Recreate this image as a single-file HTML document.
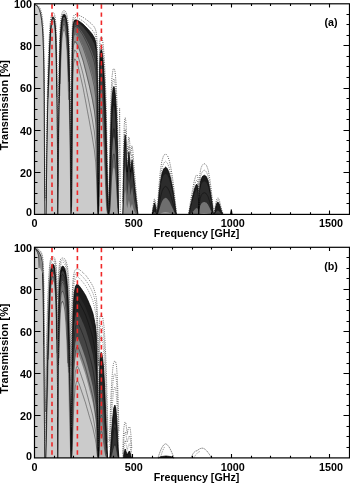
<!DOCTYPE html>
<html><head><meta charset="utf-8"><style>
html,body{margin:0;padding:0;background:#fff;}
svg{display:block;}
svg{will-change:transform;}
text{font-family:"Liberation Sans",sans-serif;font-weight:bold;fill:#000;}
.tl{font-size:10.8px;}
.al{font-size:10.7px;}
</style></head><body>
<svg width="350" height="483" viewBox="0 0 350 483">
<rect width="350" height="483" fill="#fff"/>
<polygon points="34.6,214.4 34.6,4.6 35.3,4.85 36,5.1 36.5,5.5 37,5.9 37.5,6.3 38.15,7.3 38.8,8.3 39.3,9.55 39.8,10.8 40.3,12.8 40.8,14.8 41.7,20.5 42.4,27.5 43,37.5 43.5,52 43.9,70 44.2,100 44.4,140 44.6,190 44.9,214.4 44.9,214.4" fill="#cbcbcb"/>
<polyline points="34.6,4.6 35.3,4.85 36,5.1 36.5,5.5 37,5.9 37.5,6.3 38.15,7.3 38.8,8.3 39.3,9.55 39.8,10.8 40.3,12.8 40.8,14.8 41.7,20.5 42.4,27.5 43,37.5 43.5,52 43.9,70 44.2,100 44.4,140 44.6,190 44.9,214.4" fill="none" stroke="#000" stroke-width="0.8"/>
<polygon points="46.1,214.4 46.1,214.4 46.4,190 46.9,150 47.5,115 48.1,90 48.8,70 49.5,50 50.2,35 51,25 51.8,19.5 52.3,18.25 52.8,17 53.7,17.6 54.5,20.5 55.2,26 55.8,36 56.3,55 56.7,80 57.1,110 57.5,150 57.9,214.4 57.9,214.4" fill="#1c1c1c"/>
<polygon points="46.1,214.4 46.1,214.4 46.4,192.96 46.9,154.42 47.5,119.38 48.1,93.87 48.8,73.23 49.5,52.42 50.2,36.72 51,26.2 51.8,20.4 52.3,19.08 52.8,17.77 53.7,18.4 54.5,21.46 55.2,27.25 55.8,37.77 56.3,57.64 56.7,83.57 57.1,114.3 57.5,154.42 57.9,214.4 57.9,214.4" fill="#707070"/>
<polygon points="46.1,214.4 46.1,214.4 46.4,196.74 46.9,160.49 47.5,125.59 48.1,99.45 48.8,77.95 49.5,56 50.2,39.26 51,27.99 51.8,21.75 52.3,20.33 52.8,18.91 53.7,19.59 54.5,22.89 55.2,29.12 55.8,40.39 56.3,61.52 56.7,88.76 57.1,120.43 57.5,160.49 57.9,214.4 57.9,214.4" fill="#cbcbcb"/>
<polyline points="46.1,214.4 46.4,190 46.9,150 47.5,115 48.1,90 48.8,70 49.5,50 50.2,35 51,25 51.8,19.5 52.3,18.25 52.8,17 53.7,17.6 54.5,20.5 55.2,26 55.8,36 56.3,55 56.7,80 57.1,110 57.5,150 57.9,214.4" fill="none" stroke="#000" stroke-width="0.8"/>
<polyline points="48.1,97.62 48.8,76.39 49.5,54.81 50.2,38.42 51,27.4 51.8,21.3 52.3,19.92 52.8,18.53 53.7,19.19 54.5,22.41 55.2,28.5 55.8,39.52 56.3,60.24 56.7,87.05" fill="none" stroke="#000" stroke-width="0.5" stroke-opacity="0.75"/>
<polyline points="48.8,85.46 49.5,61.77 50.2,43.43 51,30.93 51.8,23.98 52.3,22.39 52.8,20.8 53.7,21.56 54.5,25.25 55.2,32.19 55.8,44.66 56.3,67.78 56.7,96.94" fill="none" stroke="#000" stroke-width="0.5" stroke-opacity="0.75"/>
<polygon points="57.9,214.4 57.9,214.4 58.3,150 58.8,110 59.3,80 59.7,60 60.2,42 60.8,30 61.6,21 62.1,18.5 62.6,16 63.25,15.1 63.9,14.2 64.5,14.55 65.1,14.9 65.6,16.2 66.1,17.5 66.6,20.25 67.1,23 67.9,32 68.6,45 69.2,65 69.8,95 70.3,130 70.7,170 71.1,214.4 71.1,214.4" fill="#1c1c1c"/>
<polygon points="57.9,214.4 57.9,214.4 58.3,163.77 58.8,124.1 59.3,92.13 59.7,69.91 60.2,49.34 60.8,35.36 61.6,24.72 62.1,21.76 62.6,18.77 63.25,17.73 63.9,16.67 64.5,17.15 65.1,17.63 65.6,19.28 66.1,20.94 66.6,24.4 67.1,27.87 67.9,39.09 68.6,55.05 69.2,78.95 69.8,113.13 70.3,149.89 70.7,186.44 71.1,214.4 71.1,214.4" fill="#606060"/>
<polygon points="57.9,214.4 57.9,214.4 58.3,187.31 58.8,152.49 59.3,118.79 59.7,92.79 60.2,67 60.8,48.57 61.6,34.06 62.1,29.98 62.6,25.79 63.25,24.39 63.9,22.96 64.5,23.76 65.1,24.56 65.6,27.08 66.1,29.61 66.6,34.79 67.1,39.97 67.9,56.26 68.6,78.49 69.2,109.44 69.8,148.4 70.3,182.33 70.7,205.99 71.1,214.4 71.1,214.4" fill="#8c8c8c"/>
<polygon points="57.9,214.4 57.9,214.4 58.3,199.19 58.8,170.7 59.3,138.21 59.7,110.68 60.2,81.62 60.8,59.9 61.6,42.28 62.1,37.26 62.6,32.05 63.25,30.35 63.9,28.59 64.5,29.65 65.1,30.73 65.6,33.99 66.1,37.27 66.6,43.88 67.1,50.43 67.9,70.61 68.6,97.05 69.2,131.45 69.8,169.94 70.3,197.57 70.7,211.63 71.1,214.4 71.1,214.4" fill="#cbcbcb"/>
<polyline points="57.9,214.5 58.3,150 58.8,110 59.3,80 59.7,60 60.2,42 60.8,30 61.6,21 62.1,18.5 62.6,16 63.25,15.1 63.9,14.2 64.5,14.55 65.1,14.9 65.6,16.2 66.1,17.5 66.6,20.25 67.1,23 67.9,32 68.6,45 69.2,65 69.8,95 70.3,130 70.7,170 71.1,214.5" fill="none" stroke="#000" stroke-width="0.8"/>
<polyline points="59.3,89.8 59.7,67.98 60.2,47.9 60.8,34.3 61.6,23.98 62.1,21.11 62.6,18.22 63.25,17.2 63.9,16.18 64.5,16.63 65.1,17.09 65.6,18.67 66.1,20.26 66.6,23.58 67.1,26.91 67.9,37.69 68.6,53.09 69.2,76.27" fill="none" stroke="#000" stroke-width="0.5" stroke-opacity="0.75"/>
<polyline points="59.3,103.17 59.7,79.18 60.2,56.37 60.8,40.56 61.6,28.37 62.1,24.96 62.6,21.5 63.25,20.32 63.9,19.12 64.5,19.72 65.1,20.32 65.6,22.32 66.1,24.32 66.6,28.47 67.1,32.62 67.9,45.9 68.6,64.51 69.2,91.61" fill="none" stroke="#000" stroke-width="0.5" stroke-opacity="0.75"/>
<polyline points="59.7,95.97 60.2,69.54 60.8,50.52 61.6,35.46 62.1,31.21 62.6,26.85 63.25,25.4 63.9,23.91 64.5,24.75 65.1,25.6 65.6,28.25 66.1,30.91 66.6,36.34 67.1,41.75 67.9,58.75 68.6,81.78" fill="none" stroke="#000" stroke-width="0.5" stroke-opacity="0.75"/>
<polyline points="60.2,83.91 60.8,61.72 61.6,43.61 62.1,38.44 62.6,33.07 63.25,31.32 63.9,29.51 64.5,30.62 65.1,31.74 65.6,35.12 66.1,38.51 66.6,45.35 67.1,52.11 67.9,72.87 68.6,99.89" fill="none" stroke="#000" stroke-width="0.5" stroke-opacity="0.75"/>
<polygon points="71.1,214.4 71.1,214.4 71.4,170 71.7,130 71.9,90 72.1,60 72.4,40 72.9,28 73.6,22.5 74.1,21.35 74.6,20.2 75.3,20 76,19.8 76.5,19.97 77,20.15 77.5,20.32 78,20.5 78.5,20.82 79,21.15 79.5,21.47 80,21.8 80.5,22.17 81,22.53 81.5,22.9 82,23.27 82.5,23.63 83,24 83.5,24.5 84,25 84.5,25.5 85,26 85.5,26.5 86,27 86.5,27.53 87,28.07 87.5,28.6 88,29.13 88.5,29.67 89,30.2 89.5,30.8 90,31.4 90.5,32 91,32.6 91.5,33.2 92,33.8 92.58,34.72 93.15,35.65 93.72,36.58 94.3,37.5 95,39.75 95.7,42 96.6,50 97.1,62 97.5,85 97.8,120 98.1,170 98.5,214.4 98.5,214.4" fill="#1c1c1c"/>
<polygon points="71.1,214.4 71.1,214.4 71.4,175.46 71.7,136.38 71.9,95.58 72.1,64.17 72.4,42.93 72.9,30.1 73.6,24.22 74.1,23.02 74.6,21.81 75.3,21.65 76,21.49 76.5,21.73 77,21.97 77.5,22.21 78,22.45 78.5,22.85 79,23.26 79.5,23.67 80,24.09 80.5,24.55 81,25.01 81.5,25.47 82,25.94 82.5,26.41 83,26.88 83.5,27.5 84,28.12 84.5,28.75 85,29.38 85.5,30.01 86,30.64 86.5,31.32 87,31.99 87.5,32.67 88,33.35 88.5,34.03 89,34.72 89.5,35.48 90,36.25 90.5,37.02 91,37.79 91.5,38.56 92,39.34 92.58,40.51 93.15,41.68 93.72,42.86 94.3,44.03 95,46.79 95.7,49.56 96.6,59.07 97.1,73.02 97.5,98.95 97.8,136.28 98.1,183.73 98.5,214.4 98.5,214.4" fill="#3a3a3a"/>
<polygon points="71.1,214.4 71.1,214.4 71.4,185.72 71.7,149.45 71.9,107.63 72.1,73.47 72.4,49.59 72.9,34.91 73.6,28.18 74.1,26.85 74.6,25.51 75.3,25.45 76,25.39 76.5,25.77 77,26.15 77.5,26.53 78,26.91 78.5,27.51 79,28.11 79.5,28.71 80,29.32 80.5,29.99 81,30.66 81.5,31.34 82,32.03 82.5,32.72 83,33.42 83.5,34.31 84,35.21 84.5,36.11 85,37.02 85.5,37.94 86,38.87 86.5,39.85 87,40.83 87.5,41.82 88,42.82 88.5,43.82 89,44.83 89.5,45.95 90,47.07 90.5,48.19 91,49.33 91.5,50.46 92,51.61 92.58,53.28 93.15,54.97 93.72,56.66 94.3,58.36 95,62.14 95.7,65.92 96.6,78.33 97.1,95.72 97.5,125.94 97.8,164.18 98.1,201.47 98.5,214.4 98.5,214.4" fill="#666666"/>
<polygon points="71.1,214.4 71.1,214.4 71.4,198.85 71.7,169.39 71.9,128.2 72.1,90.39 72.4,62.14 72.9,44.16 73.6,35.84 74.1,34.3 74.6,32.7 75.3,32.83 76,32.95 76.5,33.59 77,34.23 77.5,34.88 78,35.54 78.5,36.48 79,37.43 79.5,38.38 80,39.35 80.5,40.4 81,41.47 81.5,42.54 82,43.63 82.5,44.72 83,45.82 83.5,47.2 84,48.58 84.5,49.98 85,51.38 85.5,52.8 86,54.23 86.5,55.73 87,57.25 87.5,58.77 88,60.3 88.5,61.84 89,63.39 89.5,65.08 90,66.77 90.5,68.48 91,70.19 91.5,71.9 92,73.63 92.58,76.09 93.15,78.56 93.72,81.03 94.3,83.5 95,88.75 95.7,93.94 96.6,109.98 97.1,130.78 97.5,162.46 97.8,193.65 98.1,212.1 98.5,214.4 98.5,214.4" fill="#999999"/>
<polygon points="71.1,214.4 71.1,214.4 71.4,207.91 71.7,187.75 71.9,150.9 72.1,111.09 72.4,78.43 72.9,56.55 73.6,46.25 74.1,44.42 74.6,42.51 75.3,42.88 76,43.22 76.5,44.2 77,45.19 77.5,46.18 78,47.18 78.5,48.55 79,49.94 79.5,51.33 80,52.74 80.5,54.27 81,55.81 81.5,57.36 82,58.92 82.5,60.5 83,62.08 83.5,64.02 84,65.97 84.5,67.93 85,69.91 85.5,71.88 86,73.87 86.5,75.95 87,78.04 87.5,80.13 88,82.23 88.5,84.33 89,86.43 89.5,88.7 90,90.97 90.5,93.24 91,95.5 91.5,97.76 92,100.02 92.58,103.19 93.15,106.33 93.72,109.45 94.3,112.55 95,118.9 95.7,125.05 96.6,142.86 97.1,163.69 97.5,190.12 97.8,208.53 98.1,214.2 98.5,214.4 98.5,214.4" fill="#cbcbcb"/>
<polyline points="71.1,214.5 71.4,170 71.7,130 71.9,90 72.1,60 72.4,40 72.9,28 73.6,22.5 74.1,21.35 74.6,20.2 75.3,20 76,19.8 76.5,19.98 77,20.15 77.5,20.32 78,20.5 78.5,20.82 79,21.15 79.5,21.48 80,21.8 80.5,22.17 81,22.53 81.5,22.9 82,23.27 82.5,23.63 83,24 83.5,24.5 84,25 84.5,25.5 85,26 85.5,26.5 86,27 86.5,27.53 87,28.07 87.5,28.6 88,29.13 88.5,29.67 89,30.2 89.5,30.8 90,31.4 90.5,32 91,32.6 91.5,33.2 92,33.8 92.58,34.72 93.15,35.65 93.72,36.58 94.3,37.5 95,39.75 95.7,42 96.6,50 97.1,62 97.5,85 97.8,120 98.1,170 98.5,214.5" fill="none" stroke="#000" stroke-width="0.8"/>
<polyline points="71.4,188.12 71.7,152.77 71.9,110.85 72.1,76.02 72.4,51.45 72.9,36.26 73.6,29.29 74.1,27.94 74.6,26.56 75.3,26.53 76,26.49 76.5,26.9 77,27.32 77.5,27.75 78,28.17 78.5,28.82 79,29.47 79.5,30.12 80,30.78 80.5,31.51 81,32.25 81.5,32.99 82,33.73 82.5,34.48 83,35.24 83.5,36.21 84,37.18 84.5,38.16 85,39.15 85.5,40.15 86,41.15 86.5,42.21 87,43.28 87.5,44.35 88,45.43 88.5,46.52 89,47.62 89.5,48.82 90,50.04 90.5,51.26 91,52.48 91.5,53.71 92,54.95 92.58,56.76 93.15,58.57 93.72,60.4 94.3,62.23 95,66.26 95.7,70.29 96.6,83.38 97.1,101.51 97.5,132.41 97.8,170.14 98.1,204.29" fill="none" stroke="#000" stroke-width="0.5" stroke-opacity="0.75"/>
<polyline points="71.4,200.15 71.7,171.69 71.9,130.8 72.1,92.63 72.4,63.85 72.9,45.44 73.6,36.91 74.1,35.34 74.6,33.71 75.3,33.86 76,34 76.5,34.68 77,35.36 77.5,36.05 78,36.74 78.5,37.72 79,38.72 79.5,39.72 80,40.74 80.5,41.84 81,42.96 81.5,44.08 82,45.22 82.5,46.37 83,47.52 83.5,48.96 84,50.41 84.5,51.87 85,53.34 85.5,54.82 86,56.31 86.5,57.88 87,59.46 87.5,61.05 88,62.65 88.5,64.25 89,65.87 89.5,67.63 90,69.39 90.5,71.17 91,72.95 91.5,74.73 92,76.52 92.58,79.07 93.15,81.63 93.72,84.19 94.3,86.74 95,92.15 95.7,97.49 96.6,113.85 97.1,134.86 97.5,166.26 97.8,196.11 98.1,212.6" fill="none" stroke="#000" stroke-width="0.5" stroke-opacity="0.75"/>
<polyline points="71.4,207.32 71.7,186.31 71.9,148.93 72.1,109.18 72.4,76.88 72.9,55.35 73.6,45.24 74.1,43.44 74.6,41.55 75.3,41.9 76,42.22 76.5,43.17 77,44.12 77.5,45.08 78,46.05 78.5,47.38 79,48.73 79.5,50.08 80,51.45 80.5,52.94 81,54.43 81.5,55.94 82,57.46 82.5,58.99 83,60.53 83.5,62.42 84,64.32 84.5,66.23 85,68.15 85.5,70.08 86,72.02 86.5,74.05 87,76.09 87.5,78.13 88,80.18 88.5,82.23 89,84.29 89.5,86.51 90,88.74 90.5,90.96 91,93.19 91.5,95.4 92,97.62 92.58,100.73 93.15,103.83 93.72,106.91 94.3,109.96 95,116.24 95.7,122.34 96.6,140.11 97.1,161.09 97.5,188.2 97.8,207.74 98.1,214.15" fill="none" stroke="#000" stroke-width="0.5" stroke-opacity="0.75"/>
<polyline points="71.4,211.17 71.7,196.87 71.9,164.68 72.1,125.13 72.4,90.19 72.9,65.8 73.6,54.14 74.1,52.11 74.6,49.97 75.3,50.51 76,51.02 76.5,52.24 77,53.47 77.5,54.7 78,55.94 78.5,57.62 79,59.3 79.5,61.01 80,62.72 80.5,64.56 81,66.42 81.5,68.29 82,70.17 82.5,72.06 83,73.96 83.5,76.26 84,78.56 84.5,80.88 85,83.19 85.5,85.52 86,87.84 86.5,90.26 87,92.68 87.5,95.09 88,97.5 88.5,99.9 89,102.3 89.5,104.88 90,107.44 90.5,109.98 91,112.52 91.5,115.03 92,117.52 92.58,120.99 93.15,124.4 93.72,127.77 94.3,131.07 95,137.72 95.7,144.04 96.6,161.54 97.1,180.41 97.5,201.19 97.8,212.26 98.1,214.37" fill="none" stroke="#000" stroke-width="0.5" stroke-opacity="0.75"/>
<polyline points="71.4,213.05 71.7,204.02 71.9,177.77 72.1,140.03 72.4,103.48 72.9,76.62 73.6,63.48 74.1,61.24 74.6,58.84 75.3,59.58 76,60.27 76.5,61.76 77,63.25 77.5,64.75 78,66.25 78.5,68.26 79,70.27 79.5,72.29 80,74.33 80.5,76.51 81,78.7 81.5,80.89 82,83.09 82.5,85.3 83,87.5 83.5,90.16 84,92.81 84.5,95.46 85,98.1 85.5,100.74 86,103.36 86.5,106.08 87,108.78 87.5,111.47 88,114.13 88.5,116.78 89,119.4 89.5,122.2 90,124.97 90.5,127.7 91,130.4 91.5,133.06 92,135.68 92.58,139.29 93.15,142.8 93.72,146.23 94.3,149.57 95,156.12 95.7,162.21 96.6,178.19 97.1,193.79 97.5,208.23 97.8,213.79 98.1,214.4" fill="none" stroke="#000" stroke-width="0.5" stroke-opacity="0.75"/>
<polygon points="98.5,214.4 98.5,214.4 98.8,170 99.1,120 99.4,85 99.8,63 100.3,53 101.1,49.4 101.9,51 102.6,56 103.4,65 104.2,78 104.9,93 105.6,112 106.2,135 106.9,165 107.7,195 108.4,214.4 108.4,214.4" fill="#1c1c1c"/>
<polygon points="98.5,214.4 98.5,214.4 98.8,186.57 99.1,140.2 99.4,102.59 99.8,77.27 100.3,65.38 101.1,61.05 101.9,62.98 102.6,68.97 103.4,79.62 104.2,94.66 104.9,111.49 105.6,131.92 106.2,155.14 106.9,182.43 107.7,204.91 108.4,214.4 108.4,214.4" fill="#444444"/>
<polygon points="98.5,214.4 98.5,214.4 98.8,205.04 99.1,172.09 99.4,134.89 99.8,105.56 100.3,90.71 101.1,85.13 101.9,87.62 102.6,95.26 103.4,108.42 104.2,126.06 104.9,144.42 105.6,164.61 106.2,184.46 106.9,202.81 107.7,212.61 108.4,214.4 108.4,214.4" fill="#888888"/>
<polygon points="98.5,214.4 98.5,214.4 98.8,211.71 99.1,192.13 99.4,160.55 99.8,130.82 100.3,114.42 101.1,108.05 101.9,110.91 102.6,119.54 103.4,133.87 104.2,151.99 104.9,169.36 105.6,186.44 106.2,200.68 106.9,210.77 107.7,214.13 108.4,214.4 108.4,214.4" fill="#cbcbcb"/>
<polyline points="98.5,214.5 98.8,170 99.1,120 99.4,85 99.8,63 100.3,53 101.1,49.4 101.9,51 102.6,56 103.4,65 104.2,78 104.9,93 105.6,112 106.2,135 106.9,165 107.7,195 108.4,214.5" fill="none" stroke="#000" stroke-width="0.8"/>
<polyline points="98.8,184.31 99.1,137.16 99.4,99.83 99.8,74.99 100.3,63.39 101.1,59.16 101.9,61.04 102.6,66.89 103.4,77.29 104.2,92.04 104.9,108.62 105.6,128.89 106.2,152.18 106.9,180.02 107.7,203.71" fill="none" stroke="#000" stroke-width="0.5" stroke-opacity="0.75"/>
<polyline points="98.8,196.95 99.1,156.07 99.4,117.79 99.8,90.2 100.3,76.82 101.1,71.87 101.9,74.08 102.6,80.88 103.4,92.81 104.2,109.29 104.9,127.17 105.6,147.96 106.2,170.18 106.9,193.7 107.7,209.76" fill="none" stroke="#000" stroke-width="0.5" stroke-opacity="0.75"/>
<polyline points="98.8,206.39 99.1,175.35 99.4,138.67 99.8,109.09 100.3,93.95 101.1,88.24 101.9,90.8 102.6,98.61 103.4,111.99 104.2,129.81 104.9,148.17 105.6,168.07 106.2,187.25 106.9,204.38 107.7,212.99" fill="none" stroke="#000" stroke-width="0.5" stroke-opacity="0.75"/>
<polyline points="98.8,211.71 99.1,192.13 99.4,160.55 99.8,130.82 100.3,114.42 101.1,108.05 101.9,110.91 102.6,119.54 103.4,133.87 104.2,151.99 104.9,169.36 105.6,186.44 106.2,200.68 106.9,210.77 107.7,214.13" fill="none" stroke="#000" stroke-width="0.5" stroke-opacity="0.75"/>
<polygon points="108.6,214.4 108.6,214.4 109.3,195 110.1,160 110.8,130 111.5,108 112.3,95 113.2,88 113.9,86.5 114.6,88.5 115.4,96 116.2,108 116.9,125 117.5,150 118.1,185 118.6,214.4 118.6,214.4" fill="#1c1c1c"/>
<polygon points="108.6,214.4 108.6,214.4 109.3,204.91 110.1,178.16 110.8,150.25 111.5,127.71 112.3,113.69 113.2,105.95 113.9,104.27 114.6,106.51 115.4,114.79 116.2,127.71 116.9,145.26 117.5,169.26 118.1,198.11 118.6,214.4 118.6,214.4" fill="#3a3a3a"/>
<polygon points="108.6,214.4 108.6,214.4 109.3,212.61 110.1,200.35 110.8,180.58 111.5,160.64 112.3,146.71 113.2,138.54 113.9,136.72 114.6,139.13 115.4,147.84 116.2,160.64 116.9,176.45 117.5,194.71 118.1,210.3 118.6,214.4 118.6,214.4" fill="#707070"/>
<polygon points="108.6,214.4 108.6,214.4 109.3,214.24 110.1,210.77 110.8,200.84 111.5,187.24 112.3,176.02 113.2,168.87 113.9,167.23 114.6,169.41 115.4,176.98 116.2,187.24 116.9,198.29 117.5,208.38 118.1,213.83 118.6,214.4 118.6,214.4" fill="#a8a8a8"/>
<polyline points="108.6,214.5 109.3,195 110.1,160 110.8,130 111.5,108 112.3,95 113.2,88 113.9,86.5 114.6,88.5 115.4,96 116.2,108 116.9,125 117.5,150 118.1,185 118.6,214.5" fill="none" stroke="#000" stroke-width="0.8"/>
<polyline points="109.3,204.91 110.1,178.16 110.8,150.25 111.5,127.71 112.3,113.69 113.2,105.95 113.9,104.27 114.6,106.51 115.4,114.79 116.2,127.71 116.9,145.26 117.5,169.26 118.1,198.11" fill="none" stroke="#000" stroke-width="0.5" stroke-opacity="0.75"/>
<polyline points="109.3,211.52 110.1,195.98 110.8,173.79 111.5,152.78 112.3,138.57 113.2,130.38 113.9,128.58 114.6,130.98 115.4,139.71 116.2,152.78 116.9,169.36 117.5,189.44 118.1,208.32" fill="none" stroke="#000" stroke-width="0.5" stroke-opacity="0.75"/>
<polyline points="109.3,213.86 110.1,207.26 110.8,192.99 111.5,176.19 112.3,163.43 113.2,155.63 113.9,153.87 114.6,156.21 115.4,164.49 116.2,176.19 116.9,189.67 117.5,203.51 118.1,212.87" fill="none" stroke="#000" stroke-width="0.5" stroke-opacity="0.75"/>
<polygon points="122.8,214.4 122.8,214.4 123.4,185 123.9,160 124.5,142 125.2,135 125.9,142 126.5,160 127.2,172 128,162 128.9,152 129.7,160 130.5,172 131.3,165 132.1,160 132.9,168 133.45,174 134,180 134.7,186.5 135.4,193 136.05,198.5 136.7,204 137.35,209.25 138,214.4 138,214.4" fill="#1c1c1c"/>
<polygon points="122.8,214.4 122.8,214.4 123.4,192.52 123.9,170 124.5,152.71 125.2,145.81 125.9,152.71 126.5,170 127.2,181.06 128,171.87 128.9,162.41 129.7,170 130.5,181.06 131.3,174.66 132.1,170 132.9,177.42 133.45,182.86 134,188.19 134.7,193.8 135.4,199.21 136.05,203.61 136.7,207.78 137.35,211.45 138,214.4 138,214.4" fill="#383838"/>
<polygon points="122.8,214.4 122.8,214.4 123.4,203.42 123.9,186.75 124.5,171.95 125.2,165.65 125.9,171.95 126.5,186.75 127.2,195.38 128,188.26 128.9,180.43 129.7,186.75 130.5,195.38 131.3,190.47 132.1,186.75 132.9,192.62 133.45,196.71 134,200.5 134.7,204.25 135.4,207.58 136.05,210.03 136.7,212.09 137.35,213.59 138,214.4 138,214.4" fill="#686868"/>
<polygon points="122.8,214.4 122.8,214.4 123.4,211.63 123.9,203.68 124.5,194.3 125.2,189.77 125.9,194.3 126.5,203.68 127.2,208.2 128,204.53 128.9,199.9 129.7,203.68 130.5,208.2 131.3,205.73 132.1,203.68 132.9,206.85 133.45,208.83 134,210.49 134.7,211.93 135.4,213.02 136.05,213.68 136.7,214.12 137.35,214.34 138,214.4 138,214.4" fill="#9a9a9a"/>
<polyline points="122.8,214.5 123.4,185 123.9,160 124.5,142 125.2,135 125.9,142 126.5,160 127.2,172 128,162 128.9,152 129.7,160 130.5,172 131.3,165 132.1,160 132.9,168 133.45,174 134,180 134.7,186.5 135.4,193 136.05,198.5 136.7,204 137.35,209.25 138,214.5" fill="none" stroke="#000" stroke-width="0.8"/>
<polygon points="152.3,214.4 152.3,214.4 152.8,211.25 153.3,208 153.9,205.5 154.5,203 155.05,204.75 155.6,206.5 156.1,209.5 156.6,212.5 157.2,213.5 157.2,214.4" fill="#1c1c1c"/>
<polygon points="152.3,214.4 152.3,214.4 152.8,214.01 153.3,213.28 153.9,212.57 154.5,211.75 155.05,212.33 155.6,212.87 156.1,213.65 156.6,214.22 157.2,214.34 157.2,214.4" fill="#555"/>
<polyline points="152.3,214.5 152.8,211.25 153.3,208 153.9,205.5 154.5,203 155.05,204.75 155.6,206.5 156.1,209.5 156.6,212.5 157.2,213.5" fill="none" stroke="#000" stroke-width="0.8"/>
<polygon points="157.2,214.4 157.2,213.5 157.7,208.75 158.2,204 158.75,198 159.3,192 159.95,186.5 160.6,181 161.3,177.25 162,173.5 162.53,172 163.07,170.5 163.6,169 164.23,168.37 164.87,167.73 165.5,167.1 166.1,167.6 166.7,168.1 167.3,168.6 167.87,169.9 168.43,171.2 169,172.5 169.5,174.33 170,176.17 170.5,178 171,180.33 171.5,182.67 172,185 172.7,189 173.4,193 174,197.5 174.6,202 175.1,205.5 175.6,209 176.5,214.4 176.5,214.4" fill="#1c1c1c"/>
<polygon points="157.2,214.4 157.2,213.88 157.7,210.47 158.2,206.7 158.75,201.69 159.3,196.5 159.95,191.61 160.6,186.62 161.3,183.17 162,179.68 162.53,178.28 163.07,176.87 163.6,175.46 164.23,174.86 164.87,174.26 165.5,173.66 166.1,174.14 166.7,174.61 167.3,175.08 167.87,176.31 168.43,177.53 169,178.75 169.5,180.46 170,182.16 170.5,183.86 171,186.01 171.5,188.14 172,190.25 172.7,193.84 173.4,197.37 174,201.27 174.6,205.06 175.1,207.91 175.6,210.66 176.5,214.4 176.5,214.4" fill="#2c2c2c"/>
<polygon points="157.2,214.4 157.2,214.38 157.7,213.95 158.2,213.13 158.75,211.65 159.3,209.73 159.95,207.62 160.6,205.2 161.3,203.37 162,201.41 162.53,200.59 163.07,199.75 163.6,198.89 164.23,198.52 164.87,198.15 165.5,197.77 166.1,198.07 166.7,198.37 167.3,198.66 167.87,199.41 168.43,200.15 169,200.87 169.5,201.86 170,202.82 170.5,203.75 171,204.88 171.5,205.96 172,206.99 172.7,208.62 173.4,210.08 174,211.51 174.6,212.69 175.1,213.43 175.6,213.98 176.5,214.4 176.5,214.4" fill="#6e6e6e"/>
<polygon points="157.2,214.4 157.2,214.4 157.7,214.4 158.2,214.37 158.75,214.3 159.3,214.15 159.95,213.91 160.6,213.56 161.3,213.24 162,212.86 162.53,212.68 163.07,212.49 163.6,212.29 164.23,212.2 164.87,212.11 165.5,212.01 166.1,212.09 166.7,212.16 167.3,212.23 167.87,212.41 168.43,212.58 169,212.74 169.5,212.95 170,213.14 170.5,213.31 171,213.51 171.5,213.68 172,213.83 172.7,214.03 173.4,214.18 174,214.29 174.6,214.36 175.1,214.38 175.6,214.4 176.5,214.4 176.5,214.4" fill="#9a9a9a"/>
<polyline points="157.2,213.5 157.7,208.75 158.2,204 158.75,198 159.3,192 159.95,186.5 160.6,181 161.3,177.25 162,173.5 162.53,172 163.07,170.5 163.6,169 164.23,168.37 164.87,167.73 165.5,167.1 166.1,167.6 166.7,168.1 167.3,168.6 167.87,169.9 168.43,171.2 169,172.5 169.5,174.33 170,176.17 170.5,178 171,180.33 171.5,182.67 172,185 172.7,189 173.4,193 174,197.5 174.6,202 175.1,205.5 175.6,209 176.5,214.5" fill="none" stroke="#000" stroke-width="0.8"/>
<polyline points="157.2,214.27 157.7,212.81 158.2,210.77 158.75,207.69 159.3,204.18 159.95,200.65 160.6,196.87 161.3,194.16 162,191.35 162.53,190.2 163.07,189.04 163.6,187.87 164.23,187.36 164.87,186.86 165.5,186.36 166.1,186.75 166.7,187.15 167.3,187.55 167.87,188.57 168.43,189.59 169,190.59 169.5,191.98 170,193.36 170.5,194.71 171,196.39 171.5,198.04 172,199.64 172.7,202.29 173.4,204.79 174,207.41 174.6,209.8 175.1,211.46 175.6,212.9" fill="none" stroke="#000" stroke-width="0.5" stroke-opacity="0.75"/>
<polygon points="188.8,214.4 188.8,214.4 189.37,211.67 189.93,208.83 190.5,206 191,203.75 191.5,201.5 192,199.25 192.5,197 193,195 193.5,193 194,191 194.5,189 195,187.67 195.5,186.33 196,185 196.8,184.2 197.6,185.5 198.2,190 198.5,200 198.6,214.4 198.6,214.4" fill="#1c1c1c"/>
<polygon points="188.8,214.4 188.8,214.4 189.37,212.63 189.93,210.53 190.5,208.31 191,206.5 191.5,204.64 192,202.76 192.5,200.84 193,199.12 193.5,197.37 194,195.62 194.5,193.84 195,192.65 195.5,191.46 196,190.25 196.8,189.53 197.6,190.71 198.2,194.73 198.5,203.39 198.6,214.4 198.6,214.4" fill="#2c2c2c"/>
<polygon points="188.8,214.4 188.8,214.4 189.37,214.32 189.93,214.1 190.5,213.76 191,213.42 191.5,213.02 192,212.56 192.5,212.03 193,211.52 193.5,210.96 194,210.37 194.5,209.72 195,209.27 195.5,208.8 196,208.32 196.8,208.01 197.6,208.5 198.2,210.05 198.5,212.72 198.6,214.4 198.6,214.4" fill="#6e6e6e"/>
<polyline points="188.8,214.5 189.37,211.67 189.93,208.83 190.5,206 191,203.75 191.5,201.5 192,199.25 192.5,197 193,195 193.5,193 194,191 194.5,189 195,187.67 195.5,186.33 196,185 196.8,184.2 197.6,185.5 198.2,190 198.5,200 198.6,214.5" fill="none" stroke="#000" stroke-width="0.8"/>
<polygon points="198.9,214.4 198.9,214.4 199.1,200 199.5,190 200.2,183 200.75,180.75 201.3,178.5 201.8,177.67 202.3,176.83 202.8,176 203.37,175.77 203.93,175.53 204.5,175.3 205.1,175.7 205.7,176.1 206.3,176.5 206.87,177.83 207.43,179.17 208,180.5 208.53,182.83 209.07,185.17 209.6,187.5 210.3,191.75 211,196 211.65,200.5 212.3,205 212.9,209.75 213.5,214.4 213.5,214.4" fill="#1c1c1c"/>
<polygon points="198.9,214.4 198.9,214.4 199.1,203.39 199.5,194.73 200.2,188.44 200.75,186.39 201.3,184.32 201.8,183.55 202.3,182.78 202.8,182.01 203.37,181.79 203.93,181.58 204.5,181.36 205.1,181.73 205.7,182.1 206.3,182.47 206.87,183.71 207.43,184.94 208,186.16 208.53,188.29 209.07,190.41 209.6,192.5 210.3,196.28 211,199.98 211.65,203.81 212.3,207.51 212.9,211.22 213.5,214.4 213.5,214.4" fill="#2c2c2c"/>
<polygon points="198.9,214.4 198.9,214.4 199.1,212.08 199.5,208.77 200.2,205.79 200.75,204.73 201.3,203.62 201.8,203.2 202.3,202.77 202.8,202.33 203.37,202.21 203.93,202.08 204.5,201.96 205.1,202.17 205.7,202.38 206.3,202.59 206.87,203.28 207.43,203.95 208,204.61 208.53,205.72 209.07,206.77 209.6,207.76 210.3,209.43 211,210.89 211.65,212.21 212.3,213.27 212.9,214.05 213.5,214.4 213.5,214.4" fill="#747474"/>
<polygon points="198.9,214.4 198.9,214.4 199.1,214.33 199.5,214.07 200.2,213.7 200.75,213.54 201.3,213.36 201.8,213.28 202.3,213.2 202.8,213.12 203.37,213.1 203.93,213.08 204.5,213.05 205.1,213.09 205.7,213.13 206.3,213.17 206.87,213.3 207.43,213.41 208,213.52 208.53,213.69 209.07,213.84 209.6,213.96 210.3,214.14 211,214.26 211.65,214.34 212.3,214.38 212.9,214.4 213.5,214.4 213.5,214.4" fill="#9a9a9a"/>
<polyline points="198.9,214.5 199.1,200 199.5,190 200.2,183 200.75,180.75 201.3,178.5 201.8,177.67 202.3,176.83 202.8,176 203.37,175.77 203.93,175.53 204.5,175.3 205.1,175.7 205.7,176.1 206.3,176.5 206.87,177.83 207.43,179.17 208,180.5 208.53,182.83 209.07,185.17 209.6,187.5 210.3,191.75 211,196 211.65,200.5 212.3,205 212.9,209.75 213.5,214.5" fill="none" stroke="#000" stroke-width="0.8"/>
<polyline points="199.1,208.77 199.5,202.92 200.2,198.27 200.75,196.69 201.3,195.07 201.8,194.46 202.3,193.85 202.8,193.23 203.37,193.06 203.93,192.89 204.5,192.71 205.1,193.01 205.7,193.31 206.3,193.61 206.87,194.59 207.43,195.56 208,196.51 208.53,198.15 209.07,199.75 209.6,201.31 210.3,204.02 211,206.56 211.65,209.03 212.3,211.23 212.9,213.18" fill="none" stroke="#000" stroke-width="0.5" stroke-opacity="0.75"/>
<polygon points="214.3,214.4 214.3,214.4 214.9,211.25 215.5,208 216.15,205.75 216.8,203.5 217.35,202.75 217.9,202 218.55,203 219.2,204 219.9,206.25 220.6,208.5 221.3,210.5 222,212.5 222.65,213.5 223.3,214.4 223.3,214.4" fill="#1c1c1c"/>
<polygon points="214.3,214.4 214.3,214.4 214.9,213.81 215.5,212.82 216.15,211.99 216.8,211.07 217.35,210.74 217.9,210.41 218.55,210.85 219.2,211.28 219.9,212.18 220.6,212.99 221.3,213.61 222,214.11 222.65,214.3 223.3,214.4 223.3,214.4" fill="#444"/>
<polyline points="214.3,214.5 214.9,211.25 215.5,208 216.15,205.75 216.8,203.5 217.35,202.75 217.9,202 218.55,203 219.2,204 219.9,206.25 220.6,208.5 221.3,210.5 222,212.5 222.65,213.5 223.3,214.5" fill="none" stroke="#000" stroke-width="0.8"/>
<polygon points="230.4,214.4 230.4,214.4 231.3,209.5 232.2,214.4 232.2,214.4" fill="#1c1c1c"/>
<polyline points="230.4,214.5 231.3,209.5 232.2,214.5" fill="none" stroke="#000" stroke-width="0.8"/>
<polyline points="34.5,4.35 35,4.35 35.5,4.46 36,4.58 36.5,4.76 37,5.02 37.5,5.28 38,5.66 38.5,6.16 39,6.66 39.5,7.45 40,8.28 40.5,9.56 41,10.91 41.5,12.99 42,15.31 42.5,18.85 43,24.19 43.5,32.87 44,47.89 44.5,91.05 45,198.06" fill="none" stroke="#111" stroke-width="0.65" stroke-dasharray="1 1.2"/>
<polyline points="46,198.06 46.5,147.83 47,111.35 47.5,85.66 48,67.7 48.5,54.9 49,42.8 49.5,32.79 50,24.97 50.5,20.38 51,16.92 51.5,14.51 52,13.49 52.5,12.63 53,12.63 53.5,12.75 54,13.08 54.5,14.33 55,16.34 55.5,19.45 56,25.56 56.5,39.51 57,65.89 57.5,106.48 58,143.21 58.5,95.09 59,65.21 59.5,43.67 60,29.97 60.5,22.47 61,18.09 61.5,14.79 62,13.06 62.5,11.72 63,11.25 63.5,10.78 64,10.68 64.5,10.78 65,10.98 65.5,11.38 66,12.27 66.5,13.46 67,15.37 67.5,17.91 68,21.97 68.5,28.07 69,37.02 69.5,51.5 70,74.02 70.5,108.06 71,164.16 71.5,101.25 72,37.02 72.5,22.91 73,18.31 73.5,16.12 74,15.32 74.5,14.73 75,14.63 75.5,14.53 76,14.48 76.5,14.54 77,14.66 77.5,14.78 78,14.9 78.5,15.08 79,15.3 79.5,15.53 80,15.76 80.5,16 81,16.26 81.5,16.52 82,16.78 82.5,17.04 83,17.3 83.5,17.6 84,17.96 84.5,18.31 85,18.67 85.5,19.03 86,19.39 86.5,19.76 87,20.14 87.5,20.53 88,20.92 88.5,21.3 89,21.69 89.5,22.11 90,22.55 90.5,22.99 91,23.43 91.5,23.87 92,24.32 92.5,24.84 93,25.44 93.5,26.04 94,26.64 94.5,27.25 95,28.41 95.5,29.63 96,31.09 96.5,34.55 97,39.91 97.5,54.2 98,95.26 98.5,166.44 99,83.62 99.5,50.01 100,40.24 100.5,37.8 101,36.78 101.5,36.78 102,37.58 102.5,39.83 103,43.25 103.5,47.94 104,54.26 104.5,61.66 105,71.47 105.5,83.62 106,98.92 106.5,119.53 107,143.8 107.5,167.32 108,190.46 108.5,208.88 109,190.46 109.5,163.85 110,138 110.5,114.1 111,96.98 111.5,85.03 112,77.16 112.5,73.08 113,69.71 113.5,68.72 114,68.68 114.5,69.34 115,71.58 115.5,76 116,82.4 116.5,90.26 117,102.66 117.5,122.22 118,150.89 118.5,187.17" fill="none" stroke="#111" stroke-width="0.65" stroke-dasharray="1 1.2"/>
<polyline points="122.75,201.32 123.25,169.64 123.75,141.97 124.25,124.9 124.75,119.38 125.25,117.74 125.75,120.47 126.25,128.25 126.75,145.47 127.25,155.28 127.75,147.83 128.25,141.32 128.75,137.34 129.25,137.34 129.75,143.13 130.25,150.79 130.75,154.53 131.25,149.9 131.75,146.21 132.25,146.21 132.75,150.2 133.25,156.29 133.75,162.91 134.25,169.64 134.75,175.44 135.25,181.32 135.75,187.17 136.25,192.66 136.75,198.2 137.25,203.66 137.75,209.07" fill="none" stroke="#111" stroke-width="0.65" stroke-dasharray="1 1.2"/>
<polyline points="152.25,212.77 152.75,208.38 153.25,204.65 153.75,201.88 154.25,199.12 154.75,199.12 155.25,201.22 155.75,203.34 156.25,206.97 156.75,211.01 157.25,209.32 157.75,202.96 158.25,196.12 158.75,189.01 159.25,182.63 159.75,177.25 160.25,171.94 160.75,168.22 161.25,164.92 161.75,161.64 162.25,159.92 162.75,158.22 163.25,156.52 163.75,155.7 164.25,155.1 164.75,154.5 165.25,153.9 165.75,153.9 166.25,154.4 166.75,154.9 167.25,155.4 167.75,156.25 168.25,157.63 168.75,159.02 169.25,160.42 169.75,162.65 170.25,164.9 170.75,167.16 171.25,170.05 171.75,172.96 172.25,175.89 172.75,179.51 173.25,183.15 173.75,187.04 174.25,191.9 174.75,196.81 175.25,201.5 175.75,206.17 176.25,210.4" fill="none" stroke="#111" stroke-width="0.65" stroke-dasharray="1 1.2"/>
<polyline points="188.75,213.18 189.25,209.8 189.75,206.44 190.25,203.1 190.75,200.11 191.25,197.14 191.75,194.19 192.25,191.25 192.75,188.66 193.25,186.08 193.75,183.51 194.25,180.96 194.75,179.26 195.25,177.58 195.75,175.89 196.25,175.26 196.75,174.95 197.25,175.3 197.75,176.32 198.25,180.32 198.75,195.17 199.25,182.23 199.75,175.89 200.25,171.85 200.75,169.3 201.25,167.37 201.75,166.34 202.25,165.31 202.75,164.6 203.25,164.34 203.75,164.09 204.25,163.84 204.75,163.84 205.25,164.25 205.75,164.66 206.25,165.07 206.75,165.89 207.25,167.34 207.75,168.8 208.25,170.26 208.75,172.99 209.25,175.74 209.75,178.5 210.25,182.14 210.75,186.03 211.25,189.95 211.75,194.47 212.25,199.02 212.75,203.87 213.25,209.18" fill="none" stroke="#111" stroke-width="0.65" stroke-dasharray="1 1.2"/>
<polyline points="214.25,213.06 214.75,209.4 215.25,205.77 215.75,203.46 216.25,201.15 216.75,199.42 217.25,198.52 217.75,198 218.25,198 218.75,199.02 219.25,200.03 219.75,201.72 220.25,203.86 220.75,206.01 221.25,207.97 221.75,209.89 222.25,211.82 222.75,212.86" fill="none" stroke="#111" stroke-width="0.65" stroke-dasharray="1 1.2"/>
<polyline points="34.75,4.52 35.25,4.67 35.75,4.82 36.25,5.06 36.75,5.4 37.25,5.74 37.75,6.23 38.25,6.88 38.75,7.53 39.25,8.55 39.75,9.61 40.25,11.25 40.75,12.96 41.25,15.58 41.75,18.47 42.25,22.82 42.75,29.27 43.25,39.47 43.75,56.42 44.25,101.58 44.75,200.36" fill="none" stroke="#333" stroke-width="0.65" stroke-dasharray="1 1.2"/>
<polyline points="46.25,200.36 46.75,155.7 47.25,121.48 47.75,96.17 48.25,77.71 48.75,64.08 49.25,50.77 49.75,39.38 50.25,30.19 50.75,24.68 51.25,20.45 51.75,17.47 52.25,16.2 52.75,15.13 53.25,15.28 53.75,15.69 54.25,17.26 54.75,19.74 55.25,23.55 55.75,30.9 56.25,47.06 56.75,75.81 57.25,116.77 57.75,186.83 58.25,151.46 58.75,105.59 59.25,75.09 59.75,51.74 60.25,36.1 60.75,27.21 61.25,21.89 61.75,17.82 62.25,15.67 62.75,13.98 63.25,13.39 63.75,12.8 64.25,12.79 64.75,13.04 65.25,13.55 65.75,14.67 66.25,16.16 66.75,18.54 67.25,21.68 67.75,26.6 68.25,33.86 68.75,44.23 69.25,60.39 69.75,84.29 70.25,118.31 70.75,170.49 71.25,189.08 71.75,111.67 72.25,44.23 72.75,27.74 73.25,22.17 73.75,19.47 74.25,18.48 74.75,17.74 75.25,17.62 75.75,17.5 76.25,17.51 76.75,17.66 77.25,17.81 77.75,17.96 78.25,18.18 78.75,18.46 79.25,18.74 79.75,19.03 80.25,19.33 80.75,19.64 81.25,19.96 81.75,20.28 82.25,20.6 82.75,20.92 83.25,21.3 83.75,21.73 84.25,22.17 84.75,22.6 85.25,23.04 85.75,23.48 86.25,23.93 86.75,24.4 87.25,24.87 87.75,25.33 88.25,25.8 88.75,26.27 89.25,26.77 89.75,27.3 90.25,27.83 90.75,28.36 91.25,28.89 91.75,29.42 92.25,30.04 92.75,30.75 93.25,31.47 93.75,32.18 94.25,32.9 94.75,34.26 95.25,35.7 95.75,37.4 96.25,41.41 96.75,47.52 97.25,63.33 97.75,105.76 98.25,182.84" fill="none" stroke="#333" stroke-width="0.65" stroke-dasharray="1 1.2"/>
<polyline points="98.75,172.54 99.25,94.11 99.75,58.75 100.25,47.88 100.75,45.12 101.25,43.96 101.75,44.87 102.25,47.42 102.75,51.27 103.25,56.48 103.75,63.38 104.25,71.33 104.75,81.65 105.25,94.11 105.75,109.38 106.25,129.32 106.75,152.01 107.25,173.32 107.75,193.76 108.25,209.68" fill="none" stroke="#333" stroke-width="0.65" stroke-dasharray="1 1.2"/>
<polyline points="108.75,209.68 109.25,193.76 109.75,170.22 110.25,146.65 110.75,124.12 111.25,107.47 111.75,95.53 112.25,87.52 112.75,83.31 113.25,79.81 113.75,78.77 114.25,79.43 114.75,81.76 115.25,86.33 115.75,92.87 116.25,100.79 116.75,113.05 117.25,131.87 117.75,158.5 118.25,190.88" fill="none" stroke="#333" stroke-width="0.65" stroke-dasharray="1 1.2"/>
<polyline points="123,203.18 123.5,175.4 124,150.32 124.5,134.4 125,129.17 125.5,130.21 126,137.56 126.5,153.54 127,162.83 127.5,162.48 128,155.7 128.5,149.72 129,146.04 129.5,151.39 130,158.41 130.5,166.58 131,161.8 131.5,157.6 132,154.22 132.5,157.87 133,163.4 133.5,169.38 134,175.4 134.5,180.55 135,185.75 135.5,190.88 136,195.67 136.5,200.48 137,205.2 137.5,209.84" fill="none" stroke="#333" stroke-width="0.65" stroke-dasharray="1 1.2"/>
<polyline points="152.5,213.01 153,209.25 153.5,206.05 154,203.66 154.5,201.27 155,203.09 155.5,204.92 156,208.04 156.5,211.5 157,212.97 157.5,210.06 158,204.59 158.5,198.68 159,192.49 159.5,186.89 160,182.15 160.5,177.44 161,174.13 161.5,171.17 162,168.23 162.5,166.68 163,165.15 163.5,163.61 164,162.87 164.5,162.32 165,161.78 165.5,161.23 166,161.69 166.5,162.14 167,162.59 167.5,163.37 168,164.62 168.5,165.87 169,167.13 169.5,169.14 170,171.16 170.5,173.18 171,175.76 171.5,178.35 172,180.95 172.5,184.15 173,187.35 173.5,190.77 174,195.01 174.5,199.28 175,203.33 175.5,207.35 176,210.98" fill="none" stroke="#333" stroke-width="0.65" stroke-dasharray="1 1.2"/>
<polyline points="189,213.36 189.5,210.46 190,207.58 190.5,204.71 191,202.13 191.5,199.56 192,197 192.5,194.45 193,192.18 193.5,189.92 194,187.67 194.5,185.43 195,183.93 195.5,182.44 196,180.95 196.5,180.4 197,180.42 197.5,181.33 198,184.87 198.5,197.85" fill="none" stroke="#333" stroke-width="0.65" stroke-dasharray="1 1.2"/>
<polyline points="199,206.14 199.5,186.55 200,180.95 200.5,177.36 201,175.09 201.5,173.37 202,172.45 202.5,171.53 203,170.89 203.5,170.66 204,170.43 204.5,170.21 205,170.57 205.5,170.94 206,171.31 206.5,172.05 207,173.35 207.5,174.65 208,175.95 208.5,178.38 209,180.81 209.5,183.26 210,186.47 210.5,189.88 211,193.31 211.5,197.24 212,201.19 212.5,205.38 213,209.94" fill="none" stroke="#333" stroke-width="0.65" stroke-dasharray="1 1.2"/>
<polyline points="214.5,213.26 215,210.13 215.5,207.01 216,205.02 216.5,203.03 217,201.53 217.5,200.76 218,200.31 218.5,201.19 219,202.07 219.5,203.52 220,205.37 220.5,207.21 221,208.9 221.5,210.55 222,212.2 222.5,213.09" fill="none" stroke="#333" stroke-width="0.65" stroke-dasharray="1 1.2"/>
<g fill="none" stroke="#222" stroke-width="0.6" stroke-dasharray="0.9 1.3">
<path d="M118.9,214 L119.3,140 L119.6,108 L120.0,140 L120.6,214"/>
</g>
<line x1="52.0" y1="4.3" x2="52.0" y2="214.4" stroke="#f02828" stroke-width="1.6" stroke-dasharray="4.4 3.7"/>
<line x1="77.4" y1="4.3" x2="77.4" y2="214.4" stroke="#f02828" stroke-width="1.6" stroke-dasharray="4.4 3.7"/>
<line x1="101.4" y1="4.3" x2="101.4" y2="214.4" stroke="#f02828" stroke-width="1.6" stroke-dasharray="4.4 3.7"/>
<rect x="34.5" y="3.8" width="315.0" height="210.6" fill="none" stroke="#000" stroke-width="1.2"/>
<path d="M54.5,214.4v-2.1M54.5,3.8v2.1M73.5,214.4v-2.1M73.5,3.8v2.1M93.5,214.4v-2.1M93.5,3.8v2.1M113.5,214.4v-2.1M113.5,3.8v2.1M132.5,214.4v-3.8M132.5,3.8v3.8M152.5,214.4v-2.1M152.5,3.8v2.1M172.5,214.4v-2.1M172.5,3.8v2.1M192.5,214.4v-2.1M192.5,3.8v2.1M211.5,214.4v-2.1M211.5,3.8v2.1M231.5,214.4v-3.8M231.5,3.8v3.8M251.5,214.4v-2.1M251.5,3.8v2.1M270.5,214.4v-2.1M270.5,3.8v2.1M290.5,214.4v-2.1M290.5,3.8v2.1M310.5,214.4v-2.1M310.5,3.8v2.1M329.5,214.4v-3.8M329.5,3.8v3.8M34.5,203.5h3M349.5,203.5h-3M34.5,193.5h3M349.5,193.5h-3M34.5,182.5h3M349.5,182.5h-3M34.5,172.5h6M349.5,172.5h-6M34.5,161.5h3M349.5,161.5h-3M34.5,151.5h3M349.5,151.5h-3M34.5,140.5h3M349.5,140.5h-3M34.5,130.5h6M349.5,130.5h-6M34.5,119.5h3M349.5,119.5h-3M34.5,109.5h3M349.5,109.5h-3M34.5,98.5h3M349.5,98.5h-3M34.5,88.5h6M349.5,88.5h-6M34.5,77.5h3M349.5,77.5h-3M34.5,66.5h3M349.5,66.5h-3M34.5,56.5h3M349.5,56.5h-3M34.5,45.5h6M349.5,45.5h-6M34.5,35.5h3M349.5,35.5h-3M34.5,24.5h3M349.5,24.5h-3M34.5,14.5h3M349.5,14.5h-3" stroke="#000" stroke-width="1.1" fill="none"/>
<text x="31.9" y="216" text-anchor="end" class="tl">0</text>
<text x="31.9" y="176.68" text-anchor="end" class="tl">20</text>
<text x="31.9" y="134.56" text-anchor="end" class="tl">40</text>
<text x="31.9" y="92.44" text-anchor="end" class="tl">60</text>
<text x="31.9" y="50.32" text-anchor="end" class="tl">80</text>
<text x="31.9" y="8.2" text-anchor="end" class="tl">100</text>
<text x="34.5" y="227.3" text-anchor="middle" class="tl">0</text>
<text x="133.74" y="227.3" text-anchor="middle" class="tl">500</text>
<text x="232.68" y="227.3" text-anchor="middle" class="tl">1000</text>
<text x="331.11" y="227.3" text-anchor="middle" class="tl">1500</text>
<text x="196.6" y="237.4" text-anchor="middle" class="al">Frequency [GHz]</text>
<text transform="translate(8.2,105.1) rotate(-90)" text-anchor="middle" class="al" style="font-size:10.9px">Transmission [%]</text>
<text x="331" y="26.3" text-anchor="middle" class="al">(a)</text>
<polygon points="34.6,457.9 34.6,248.3 35.3,248.65 36,249 36.5,249.43 37,249.87 37.5,250.3 38,250.97 38.5,251.63 39,252.3 39.7,253.65 40.4,255 40.9,256.75 41.4,258.5 42.1,263 42.6,270 43,280 43.3,295 43.6,330 44,370 44.4,420 44.8,457.9 44.8,457.9" fill="#444"/>
<polygon points="34.6,457.9 34.6,248.4 35.3,248.78 36,249.17 36.5,249.65 37,250.12 37.5,250.6 38,251.33 38.5,252.06 39,252.79 39.7,254.27 40.4,255.75 40.9,257.67 41.4,259.59 42.1,264.5 42.6,272.13 43,282.98 43.3,299.13 43.6,336.22 44,377.35 44.4,425.97 44.8,457.9 44.8,457.9" fill="#8a8a8a"/>
<polygon points="34.6,457.9 34.6,248.55 35.3,248.99 36,249.42 36.5,249.96 37,250.5 37.5,251.04 38,251.87 38.5,252.7 39,253.53 39.7,255.21 40.4,256.88 40.9,259.05 41.4,261.21 42.1,266.74 42.6,275.28 43,287.35 43.3,305.13 43.6,344.99 44,387.25 44.4,433.21 44.8,457.9 44.8,457.9" fill="#cbcbcb"/>
<polyline points="34.6,248.3 35.3,248.65 36,249 36.5,249.43 37,249.87 37.5,250.3 38,250.97 38.5,251.63 39,252.3 39.7,253.65 40.4,255 40.9,256.75 41.4,258.5 42.1,263 42.6,270 43,280 43.3,295 43.6,330 44,370 44.4,420 44.8,458" fill="none" stroke="#000" stroke-width="0.8"/>
<polyline points="34.6,248.4 35.3,248.78 36,249.17 36.5,249.65 37,250.12 37.5,250.6 38,251.33 38.5,252.06 39,252.79 39.7,254.27 40.4,255.75 40.9,257.67 41.4,259.59 42.1,264.5 42.6,272.13 43,282.98 43.3,299.13 43.6,336.22" fill="none" stroke="#000" stroke-width="0.5" stroke-opacity="0.75"/>
<polyline points="34.6,248.55 35.3,248.99 36,249.42 36.5,249.96 37,250.5 37.5,251.04 38,251.87 38.5,252.7 39,253.53 39.7,255.21 40.4,256.88 40.9,259.05 41.4,261.21 42.1,266.74 42.6,275.28 43,287.35 43.3,305.13 43.6,344.99" fill="none" stroke="#000" stroke-width="0.5" stroke-opacity="0.75"/>
<polygon points="45.8,457.9 45.8,457.9 46.2,430 46.7,400 47.3,370 47.9,345 48.5,320 49.1,300 49.8,283 50.6,271 51.1,268.25 51.6,265.5 52.2,264.65 52.8,263.8 53.35,264.4 53.9,265 54.8,269 55.5,276 56.1,288 56.6,305 57,330 57.4,370 57.9,457.9 57.9,457.9" fill="#1c1c1c"/>
<polygon points="45.8,457.9 45.8,457.9 46.2,439.28 46.7,413.18 47.3,384.09 47.9,358.24 48.5,331.2 49.1,308.84 49.8,289.38 50.6,275.41 51.1,272.18 51.6,268.95 52.2,267.94 52.8,266.94 53.35,267.65 53.9,268.36 54.8,273.06 55.5,281.25 56.1,295.14 56.6,314.48 57,342.14 57.4,384.09 57.9,457.9 57.9,457.9" fill="#505050"/>
<polygon points="45.8,457.9 45.8,457.9 46.2,449.6 46.7,431.22 47.3,405.86 47.9,380.23 48.5,350.94 49.1,325.06 49.8,301.45 50.6,283.92 51.1,279.81 51.6,275.66 52.2,274.37 52.8,273.07 53.35,273.99 53.9,274.9 54.8,280.93 55.5,291.31 56.1,308.54 56.6,331.72 57,363.08 57.4,405.86 57.9,457.9 57.9,457.9" fill="#8a8a8a"/>
<polygon points="45.8,457.9 45.8,457.9 46.2,454.88 46.7,443.91 47.3,424.28 47.9,401.03 48.5,371.35 49.1,342.87 49.8,315.32 50.6,294 51.1,288.9 51.6,283.71 52.2,282.09 52.8,280.46 53.35,281.61 53.9,282.76 54.8,290.3 55.5,303.07 56.1,323.75 56.6,350.39 57,384 57.4,424.28 57.9,457.9 57.9,457.9" fill="#cbcbcb"/>
<polyline points="45.8,458 46.2,430 46.7,400 47.3,370 47.9,345 48.5,320 49.1,300 49.8,283 50.6,271 51.1,268.25 51.6,265.5 52.2,264.65 52.8,263.8 53.35,264.4 53.9,265 54.8,269 55.5,276 56.1,288 56.6,305 57,330 57.4,370 57.9,458" fill="none" stroke="#000" stroke-width="0.8"/>
<polyline points="47.9,355.08 48.5,328.49 49.1,306.68 49.8,287.81 50.6,274.32 51.1,271.21 51.6,268.09 52.2,267.13 52.8,266.16 53.35,266.84 53.9,267.52 54.8,272.06 55.5,279.95 56.1,293.39 56.6,312.17 57,339.22" fill="none" stroke="#000" stroke-width="0.5" stroke-opacity="0.75"/>
<polyline points="48.5,341.49 49.1,317.18 49.8,295.52 50.6,279.72 51.1,276.03 51.6,272.33 52.2,271.18 52.8,270.03 53.35,270.84 53.9,271.66 54.8,277.04 55.5,286.35 56.1,301.99 56.6,323.38 57,353.13" fill="none" stroke="#000" stroke-width="0.5" stroke-opacity="0.75"/>
<polyline points="48.5,359.62 49.1,332.49 49.8,307.15 50.6,288.02 51.1,283.5 51.6,278.92 52.2,277.5 52.8,276.06 53.35,277.07 53.9,278.08 54.8,284.74 55.5,296.12 56.1,314.82 56.6,339.55" fill="none" stroke="#000" stroke-width="0.5" stroke-opacity="0.75"/>
<polygon points="57.9,457.9 57.9,457.9 58.2,380 58.4,340 58.6,310 58.9,295 59.5,282 60.3,272 60.8,269.65 61.3,267.3 61.85,266.7 62.4,266.1 63,266.3 63.6,266.5 64.2,267.5 64.8,268.5 65.35,270.75 65.9,273 66.4,276.5 66.9,280 67.7,290 68.3,302 68.9,320 69.5,345 70.1,380 70.6,420 71,457.9 71,457.9" fill="#1c1c1c"/>
<polygon points="57.9,457.9 57.9,457.9 58.2,396.71 58.4,355.6 58.6,322.34 58.9,305.1 59.5,289.88 60.3,277.98 60.8,275.2 61.3,272.39 61.85,271.74 62.4,271.08 63,271.42 63.6,271.77 64.2,273.13 64.8,274.5 65.35,277.44 65.9,280.39 66.4,284.91 66.9,289.42 67.7,302.09 68.3,316.95 68.9,338.53 69.5,366.92 70.1,403 70.6,437.33 71,457.9 71,457.9" fill="#3e3e3e"/>
<polygon points="57.9,457.9 57.9,457.9 58.2,420.14 58.4,380.87 58.6,344.01 58.9,323.45 59.5,304.6 60.3,289.36 60.8,285.8 61.3,282.16 61.85,281.41 62.4,280.65 63,281.27 63.6,281.89 64.2,283.9 64.8,285.92 65.35,290.1 65.9,294.29 66.4,300.57 66.9,306.79 67.7,323.72 68.3,342.69 68.9,368.45 69.5,398.82 70.1,430.63 70.6,451.84 71,457.9 71,457.9" fill="#707070"/>
<polygon points="57.9,457.9 57.9,457.9 58.2,436.4 58.4,402.58 58.6,364.95 58.9,342.1 59.5,320.16 60.3,301.74 60.8,297.4 61.3,292.91 61.85,292.07 62.4,291.2 63,292.09 63.6,292.99 64.2,295.67 64.8,298.36 65.35,303.76 65.9,309.14 66.4,317.05 66.9,324.81 67.7,345.19 68.3,366.85 68.9,394.02 69.5,422.2 70.1,445.84 70.6,456.44 71,457.9 71,457.9" fill="#a0a0a0"/>
<polygon points="57.9,457.9 57.9,457.9 58.2,446.61 58.4,420.01 58.6,384.21 58.9,360.27 59.5,336.01 60.3,314.77 60.8,309.71 61.3,304.4 61.85,303.46 62.4,302.49 63,303.66 63.6,304.83 64.2,308.15 64.8,311.48 65.35,318.02 65.9,324.46 66.4,333.79 66.9,342.78 67.7,365.55 68.3,388.31 68.9,414.42 69.5,437.82 70.1,453.16 70.6,457.61 71,457.9 71,457.9" fill="#cbcbcb"/>
<polyline points="57.9,458 58.2,380 58.4,340 58.6,310 58.9,295 59.5,282 60.3,272 60.8,269.65 61.3,267.3 61.85,266.7 62.4,266.1 63,266.3 63.6,266.5 64.2,267.5 64.8,268.5 65.35,270.75 65.9,273 66.4,276.5 66.9,280 67.7,290 68.3,302 68.9,320 69.5,345 70.1,380 70.6,420 71,458" fill="none" stroke="#000" stroke-width="0.8"/>
<polyline points="58.4,350.64 58.6,318.34 58.9,301.8 59.5,287.3 60.3,276.01 60.8,273.37 61.3,270.71 61.85,270.07 62.4,269.43 63,269.73 63.6,270.03 64.2,271.27 64.8,272.52 65.35,275.24 65.9,277.96 66.4,282.15 66.9,286.34 67.7,298.16 68.3,312.14 68.9,332.65 69.5,360.13" fill="none" stroke="#000" stroke-width="0.5" stroke-opacity="0.75"/>
<polyline points="58.4,364.83 58.6,329.98 58.9,311.48 59.5,294.94 60.3,281.86 60.8,278.8 61.3,275.7 61.85,275.02 62.4,274.32 63,274.76 63.6,275.21 64.2,276.79 64.8,278.39 65.35,281.76 65.9,285.15 66.4,290.29 66.9,295.42 67.7,309.66 68.3,326.12 68.9,349.48" fill="none" stroke="#000" stroke-width="0.5" stroke-opacity="0.75"/>
<polyline points="58.6,347.26 58.9,326.29 59.5,306.93 60.3,291.19 60.8,287.51 61.3,283.74 61.85,282.98 62.4,282.2 63,282.85 63.6,283.52 64.2,285.63 64.8,287.76 65.35,292.13 65.9,296.5 66.4,303.03 66.9,309.51 67.7,327.02 68.3,346.5 68.9,372.65" fill="none" stroke="#000" stroke-width="0.5" stroke-opacity="0.75"/>
<polyline points="58.6,364.95 58.9,342.1 59.5,320.16 60.3,301.74 60.8,297.4 61.3,292.91 61.85,292.07 62.4,291.2 63,292.09 63.6,292.99 64.2,295.67 64.8,298.36 65.35,303.76 65.9,309.14 66.4,317.05 66.9,324.81 67.7,345.19 68.3,366.85" fill="none" stroke="#000" stroke-width="0.5" stroke-opacity="0.75"/>
<polyline points="58.9,358.16 59.5,334.13 60.3,313.2 60.8,308.22 61.3,303 61.85,302.08 62.4,301.12 63,302.26 63.6,303.4 64.2,306.64 64.8,309.9 65.35,316.31 65.9,322.64 66.4,331.81 66.9,340.68 67.7,363.22" fill="none" stroke="#000" stroke-width="0.5" stroke-opacity="0.75"/>
<polygon points="71.1,457.9 71.1,457.9 71.5,410 71.9,370 72.3,340 72.8,318 73.4,303 74.2,293 74.75,290 75.3,287 75.9,285.8 76.5,284.6 77.05,284.5 77.6,284.4 78.3,285 79,285.6 79.5,286.28 80,286.95 80.5,287.62 81,288.3 81.58,289.12 82.15,289.95 82.72,290.78 83.3,291.6 83.85,292.5 84.4,293.4 84.95,294.3 85.5,295.2 86,296.26 86.5,297.32 87,298.38 87.5,299.44 88,300.5 88.56,301.86 89.12,303.22 89.68,304.58 90.24,305.94 90.8,307.3 91.3,308.73 91.8,310.15 92.3,311.57 92.8,313 93.5,316.2 94.2,319.4 94.8,322.7 95.4,326 96.2,333 96.8,345 97.3,370 97.8,410 98.3,457.9 98.3,457.9" fill="#1c1c1c"/>
<polygon points="71.1,457.9 71.1,457.9 71.5,427.18 71.9,390.27 72.3,358.83 72.8,334.16 73.4,316.64 74.2,304.67 74.75,301.03 75.3,297.38 75.9,295.91 76.5,294.44 77.05,294.32 77.6,294.2 78.3,294.93 79,295.67 79.5,296.49 80,297.32 80.5,298.14 81,298.97 81.58,299.97 82.15,300.97 82.72,301.97 83.3,302.97 83.85,304.06 84.4,305.15 84.95,306.24 85.5,307.32 86,308.59 86.5,309.87 87,311.14 87.5,312.4 88,313.67 88.56,315.28 89.12,316.9 89.68,318.51 90.24,320.11 90.8,321.71 91.3,323.39 91.8,325.05 92.3,326.72 92.8,328.38 93.5,332.08 94.2,335.76 94.8,339.53 95.4,343.27 96.2,351.12 96.8,364.26 97.3,390.27 97.8,427.18 98.3,457.9 98.3,457.9" fill="#262626"/>
<polygon points="71.1,457.9 71.1,457.9 71.5,445.27 71.9,417.86 72.3,387.95 72.8,361.09 73.4,340.41 74.2,325.59 74.75,320.97 75.3,316.29 75.9,314.39 76.5,312.49 77.05,312.33 77.6,312.17 78.3,313.12 79,314.08 79.5,315.15 80,316.21 80.5,317.27 81,318.33 81.58,319.62 82.15,320.9 82.72,322.17 83.3,323.44 83.85,324.82 84.4,326.19 84.95,327.56 85.5,328.92 86,330.51 86.5,332.09 87,333.67 87.5,335.23 88,336.79 88.56,338.77 89.12,340.73 89.68,342.68 90.24,344.61 90.8,346.53 91.3,348.53 91.8,350.5 92.3,352.46 92.8,354.41 93.5,358.7 94.2,362.92 94.8,367.17 95.4,371.33 96.2,379.85 96.8,393.48 97.3,417.86 97.8,445.27 98.3,457.9 98.3,457.9" fill="#454545"/>
<polygon points="71.1,457.9 71.1,457.9 71.5,455.03 71.9,441.19 72.3,418.74 72.8,393.59 73.4,371.49 74.2,354.3 74.75,348.74 75.3,342.98 75.9,340.63 76.5,338.24 77.05,338.04 77.6,337.84 78.3,339.04 79,340.23 79.5,341.56 80,342.89 80.5,344.2 81,345.5 81.58,347.08 82.15,348.64 82.72,350.19 83.3,351.73 83.85,353.38 84.4,355.02 84.95,356.65 85.5,358.26 86,360.13 86.5,361.97 87,363.8 87.5,365.6 88,367.38 88.56,369.63 89.12,371.84 89.68,374.02 90.24,376.16 90.8,378.26 91.3,380.43 91.8,382.55 92.3,384.64 92.8,386.69 93.5,391.16 94.2,395.44 94.8,399.65 95.4,403.68 96.2,411.61 96.8,423.37 97.3,441.19 97.8,455.03 98.3,457.9 98.3,457.9" fill="#878787"/>
<polygon points="71.1,457.9 71.1,457.9 71.5,456.88 71.9,448.83 72.3,431.81 72.8,409.6 73.4,388.21 74.2,370.6 74.75,364.75 75.3,358.62 75.9,356.08 76.5,353.5 77.05,353.29 77.6,353.07 78.3,354.37 79,355.66 79.5,357.09 80,358.51 80.5,359.92 81,361.31 81.58,362.99 82.15,364.65 82.72,366.29 83.3,367.9 83.85,369.65 84.4,371.36 84.95,373.05 85.5,374.72 86,376.66 86.5,378.56 87,380.43 87.5,382.27 88,384.07 88.56,386.34 89.12,388.56 89.68,390.73 90.24,392.85 90.8,394.92 91.3,397.04 91.8,399.11 92.3,401.13 92.8,403.09 93.5,407.32 94.2,411.32 94.8,415.19 95.4,418.83 96.2,425.79 96.8,435.58 97.3,448.83 97.8,456.88 98.3,457.9 98.3,457.9" fill="#cbcbcb"/>
<polyline points="71.1,458 71.5,410 71.9,370 72.3,340 72.8,318 73.4,303 74.2,293 74.75,290 75.3,287 75.9,285.8 76.5,284.6 77.05,284.5 77.6,284.4 78.3,285 79,285.6 79.5,286.28 80,286.95 80.5,287.62 81,288.3 81.58,289.12 82.15,289.95 82.72,290.78 83.3,291.6 83.85,292.5 84.4,293.4 84.95,294.3 85.5,295.2 86,296.26 86.5,297.32 87,298.38 87.5,299.44 88,300.5 88.56,301.86 89.12,303.22 89.68,304.58 90.24,305.94 90.8,307.3 91.3,308.73 91.8,310.15 92.3,311.57 92.8,313 93.5,316.2 94.2,319.4 94.8,322.7 95.4,326 96.2,333 96.8,345 97.3,370 97.8,410 98.3,458" fill="none" stroke="#000" stroke-width="0.8"/>
<polyline points="71.5,435.06 71.9,401.11 72.3,369.69 72.8,343.88 73.4,325.05 74.2,311.98 74.75,307.98 75.3,303.95 75.9,302.32 76.5,300.69 77.05,300.56 77.6,300.42 78.3,301.24 79,302.05 79.5,302.97 80,303.88 80.5,304.79 81,305.7 81.58,306.81 82.15,307.92 82.72,309.02 83.3,310.12 83.85,311.32 84.4,312.51 84.95,313.71 85.5,314.89 86,316.29 86.5,317.68 87,319.07 87.5,320.45 88,321.83 88.56,323.58 89.12,325.34 89.68,327.08 90.24,328.82 90.8,330.55 91.3,332.35 91.8,334.15 92.3,335.93 92.8,337.71 93.5,341.67 94.2,345.58 94.8,349.57 95.4,353.52 96.2,361.71 96.8,375.24 97.3,401.11 97.8,435.06" fill="none" stroke="#000" stroke-width="0.5" stroke-opacity="0.75"/>
<polyline points="71.5,450.91 71.9,429.67 72.3,402.44 72.8,375.7 73.4,354 74.2,337.92 74.75,332.84 75.3,327.64 75.9,325.53 76.5,323.39 77.05,323.22 77.6,323.04 78.3,324.11 79,325.17 79.5,326.37 80,327.55 80.5,328.73 81,329.91 81.58,331.34 82.15,332.75 82.72,334.16 83.3,335.56 83.85,337.08 84.4,338.59 84.95,340.08 85.5,341.57 86,343.3 86.5,345.03 87,346.73 87.5,348.42 88,350.1 88.56,352.23 89.12,354.34 89.68,356.42 90.24,358.48 90.8,360.51 91.3,362.62 91.8,364.7 92.3,366.75 92.8,368.78 93.5,373.24 94.2,377.58 94.8,381.91 95.4,386.11 96.2,394.57 96.8,407.7 97.3,429.67 97.8,450.91" fill="none" stroke="#000" stroke-width="0.5" stroke-opacity="0.75"/>
<polyline points="71.5,456.31 71.9,446.12 72.3,426.85 72.8,403.29 73.4,381.48 74.2,363.95 74.75,358.2 75.3,352.2 75.9,349.73 76.5,347.22 77.05,347.01 77.6,346.79 78.3,348.06 79,349.31 79.5,350.71 80,352.09 80.5,353.47 81,354.83 81.58,356.47 82.15,358.1 82.72,359.71 83.3,361.3 83.85,363.01 84.4,364.7 84.95,366.38 85.5,368.03 86,369.95 86.5,371.83 87,373.7 87.5,375.53 88,377.33 88.56,379.61 89.12,381.84 89.68,384.02 90.24,386.16 90.8,388.26 91.3,390.41 91.8,392.51 92.3,394.57 92.8,396.58 93.5,400.94 94.2,405.08 94.8,409.12 95.4,412.94 96.2,420.34 96.8,430.99 97.3,446.12 97.8,456.31" fill="none" stroke="#000" stroke-width="0.5" stroke-opacity="0.75"/>
<polyline points="71.5,457.54 71.9,452.98 72.3,440.52 72.8,421.63 73.4,401.69 74.2,384.34 74.75,378.41 75.3,372.12 75.9,369.5 76.5,366.82 77.05,366.59 77.6,366.37 78.3,367.72 79,369.06 79.5,370.55 80,372.01 80.5,373.46 81,374.89 81.58,376.61 82.15,378.31 82.72,379.98 83.3,381.62 83.85,383.38 84.4,385.11 84.95,386.8 85.5,388.47 86,390.39 86.5,392.28 87,394.12 87.5,395.92 88,397.68 88.56,399.89 89.12,402.03 89.68,404.11 90.24,406.14 90.8,408.1 91.3,410.09 91.8,412.03 92.3,413.9 92.8,415.71 93.5,419.58 94.2,423.16 94.8,426.58 95.4,429.74 96.2,435.63 96.8,443.47 97.3,452.98 97.8,457.54" fill="none" stroke="#000" stroke-width="0.5" stroke-opacity="0.75"/>
<polyline points="71.5,457.8 71.9,455.66 72.3,447.59 72.8,432.8 73.4,415.27 74.2,398.88 74.75,393.08 75.3,386.82 75.9,384.19 76.5,381.48 77.05,381.25 77.6,381.02 78.3,382.39 79,383.74 79.5,385.24 80,386.71 80.5,388.16 81,389.59 81.58,391.3 82.15,392.98 82.72,394.62 83.3,396.22 83.85,397.94 84.4,399.62 84.95,401.26 85.5,402.86 86,404.7 86.5,406.49 87,408.23 87.5,409.92 88,411.57 88.56,413.61 89.12,415.58 89.68,417.48 90.24,419.31 90.8,421.07 91.3,422.85 91.8,424.56 92.3,426.19 92.8,427.77 93.5,431.07 94.2,434.08 94.8,436.88 95.4,439.42 96.2,443.98 96.8,449.67 97.3,455.66 97.8,457.8" fill="none" stroke="#000" stroke-width="0.5" stroke-opacity="0.75"/>
<polygon points="98.5,457.9 98.5,457.9 98.8,430 99.1,400 99.5,375 100,360 100.6,354 101.2,352.3 101.9,354 102.6,358.5 103.4,366 104.2,378 105,395 105.8,415 106.7,438 107.6,457.9 107.6,457.9" fill="#1c1c1c"/>
<polygon points="98.5,457.9 98.5,457.9 98.8,439.28 99.1,413.18 99.5,389.1 100,373.91 100.6,367.69 101.2,365.92 101.9,367.69 102.6,372.36 103.4,380.04 104.2,392.08 105,408.5 105.8,426.69 106.7,445.49 107.6,457.9 107.6,457.9" fill="#2e2e2e"/>
<polygon points="98.5,457.9 98.5,457.9 98.8,449.6 99.1,431.22 99.5,410.52 100,396.07 100.6,389.9 101.2,388.11 101.9,389.9 102.6,394.55 103.4,402.02 104.2,413.23 105,427.44 105.8,441.39 106.7,453.07 107.6,457.9 107.6,457.9" fill="#5a5a5a"/>
<polygon points="98.5,457.9 98.5,457.9 98.8,455.43 99.1,445.6 99.5,430.82 100,418.85 100.6,413.4 101.2,411.78 101.9,413.4 102.6,417.53 103.4,423.93 104.2,432.93 105,443.15 105.8,451.54 106.7,456.73 107.6,457.9 107.6,457.9" fill="#8a8a8a"/>
<polygon points="98.5,457.9 98.5,457.9 98.8,457.41 99.1,453.52 99.5,445.05 100,436.74 100.6,432.61 101.2,431.35 101.9,432.61 102.6,435.76 103.4,440.4 104.2,446.4 105,452.29 105.8,456.12 106.7,457.72 107.6,457.9 107.6,457.9" fill="#b0b0b0"/>
<polyline points="98.5,458 98.8,430 99.1,400 99.5,375 100,360 100.6,354 101.2,352.3 101.9,354 102.6,358.5 103.4,366 104.2,378 105,395 105.8,415 106.7,438 107.6,458" fill="none" stroke="#000" stroke-width="0.8"/>
<polyline points="98.8,442.69 99.1,418.6 99.5,395.23 100,380.1 100.6,373.85 101.2,372.05 101.9,373.85 102.6,378.55 103.4,386.24 104.2,398.16 105,414.13 105.8,431.28 106.7,448.09" fill="none" stroke="#000" stroke-width="0.5" stroke-opacity="0.75"/>
<polyline points="98.8,451.12 99.1,434.45 99.5,414.74 100,400.63 100.6,394.54 101.2,392.77 101.9,394.54 102.6,399.13 103.4,406.47 104.2,417.36 105,430.9 105.8,443.82 106.7,454.08" fill="none" stroke="#000" stroke-width="0.5" stroke-opacity="0.75"/>
<polyline points="98.8,455.88 99.1,447.09 99.5,433.23 100,421.73 100.6,416.43 101.2,414.85 101.9,416.43 102.6,420.45 103.4,426.63 104.2,435.23 105,444.83 105.8,452.48 106.7,456.97" fill="none" stroke="#000" stroke-width="0.5" stroke-opacity="0.75"/>
<polyline points="98.8,457.41 99.1,453.52 99.5,445.05 100,436.74 100.6,432.61 101.2,431.35 101.9,432.61 102.6,435.76 103.4,440.4 104.2,446.4 105,452.29 105.8,456.12 106.7,457.72" fill="none" stroke="#000" stroke-width="0.5" stroke-opacity="0.75"/>
<polygon points="109.8,457.9 109.8,457.9 110.6,448 111.1,440 111.6,432 112.15,425 112.7,418 113.25,413 113.8,408 114.35,406.55 114.9,405.1 115.4,407.05 115.9,409 116.8,420 117.6,436 118.3,450 118.9,457.9 118.9,457.9" fill="#1c1c1c"/>
<polygon points="109.8,457.9 109.8,457.9 110.6,453.94 111.1,449.36 111.6,444.09 112.15,439.05 112.7,433.68 113.25,429.66 113.8,425.5 114.35,424.27 114.9,423.04 115.4,424.7 115.9,426.35 116.8,435.24 117.6,446.79 118.3,454.95 118.9,457.9 118.9,457.9" fill="#333"/>
<polygon points="109.8,457.9 109.8,457.9 110.6,457.43 111.1,456.38 111.6,454.71 112.15,452.76 112.7,450.34 113.25,448.33 113.8,446.08 114.35,445.38 114.9,444.66 115.4,445.62 115.9,446.55 116.8,451.08 117.6,455.62 118.3,457.6 118.9,457.9 118.9,457.9" fill="#666"/>
<polyline points="109.8,458 110.6,448 111.1,440 111.6,432 112.15,425 112.7,418 113.25,413 113.8,408 114.35,406.55 114.9,405.1 115.4,407.05 115.9,409 116.8,420 117.6,436 118.3,450 118.9,458" fill="none" stroke="#000" stroke-width="0.8"/>
<polyline points="110.6,454.99 111.1,451.22 111.6,446.7 112.15,442.24 112.7,437.39 113.25,433.7 113.8,429.85 114.35,428.7 114.9,427.54 115.4,429.1 115.9,430.63 116.8,438.81 117.6,449.04 118.3,455.78" fill="none" stroke="#000" stroke-width="0.5" stroke-opacity="0.75"/>
<polyline points="110.6,457.43 111.1,456.38 111.6,454.71 112.15,452.76 112.7,450.34 113.25,448.33 113.8,446.08 114.35,445.38 114.9,444.66 115.4,445.62 115.9,446.55 116.8,451.08 117.6,455.62 118.3,457.6" fill="none" stroke="#000" stroke-width="0.5" stroke-opacity="0.75"/>
<polygon points="123.2,457.9 123.2,457.9 123.7,455 124.2,452 124.7,450.5 125.2,449 125.7,450.5 126.2,452 126.7,453.5 127.2,455 127.85,453.5 128.5,452 129,451.5 129.5,451 130,452.5 130.5,454 131,456 131.5,457.9 131.5,457.9" fill="#1c1c1c"/>
<polyline points="123.2,458 123.7,455 124.2,452 124.7,450.5 125.2,449 125.7,450.5 126.2,452 126.7,453.5 127.2,455 127.85,453.5 128.5,452 129,451.5 129.5,451 130,452.5 130.5,454 131,456 131.5,458" fill="none" stroke="#000" stroke-width="0.8"/>
<polygon points="158,457.9 158,457.9 158.5,457.77 159,457.53 159.5,457.3 160,457.07 160.5,456.83 161,456.6 161.5,456.54 162,456.48 162.5,456.42 163,456.36 163.5,456.3 164,456.24 164.5,456.18 165,456.12 165.5,456.06 166,456 166.5,456.06 167,456.12 167.5,456.18 168,456.24 168.5,456.3 169,456.36 169.5,456.42 170,456.48 170.5,456.54 171,456.6 171.5,456.83 172,457.07 172.5,457.3 173,457.53 173.5,457.77 174,457.9 174,457.9" fill="#1c1c1c"/>
<polyline points="158,458 158.5,457.77 159,457.53 159.5,457.3 160,457.07 160.5,456.83 161,456.6 161.5,456.54 162,456.48 162.5,456.42 163,456.36 163.5,456.3 164,456.24 164.5,456.18 165,456.12 165.5,456.06 166,456 166.5,456.06 167,456.12 167.5,456.18 168,456.24 168.5,456.3 169,456.36 169.5,456.42 170,456.48 170.5,456.54 171,456.6 171.5,456.83 172,457.07 172.5,457.3 173,457.53 173.5,457.77 174,458" fill="none" stroke="#000" stroke-width="0.8"/>
<polyline points="34.5,247.9 35,247.9 35.5,247.97 36,248.11 36.5,248.25 37,248.5 37.5,248.74 38,248.99 38.5,249.36 39,249.74 39.5,250.11 40,250.66 40.5,251.21 41,251.85 41.5,252.85 42,254.02 42.5,255.87 43,259.51 43.5,266.29 44,290.64 44.5,328.79 45,389.32 45.5,411.94 46,368.17 46.5,341.63 47,322.07 47.5,306.32 48,291.76 48.5,280.8 49,272.57 49.5,266.29 50,261.81 50.5,259.62 51,258.01 51.5,257.36 52,256.95 52.5,256.75 53,256.75 53.5,256.83 54,257.15 54.5,257.66 55,258.96 55.5,260.92 56,263.89 56.5,269.94 57,279.69 57.5,298.62 58,295.16 58.5,274.16 59,267.5 59.5,263.74 60,260.96 60.5,259.57 61,258.62 61.5,258.3 62,258.06 62.5,258.06 63,258.06 63.5,258.16 64,258.26 64.5,258.67 65,259.16 65.5,259.93 66,261.13 66.5,262.52 67,264.61 67.5,267.04 68,270.86 68.5,276.14 69,283.81 69.5,294.59 70,309.36 70.5,332.26 71,366 71.5,322.73 72,299.46 72.5,287.09 73,279.78 73.5,275.83 74,273.24 74.5,271.56 75,270.3 75.5,269.69 76,269.08 76.5,269.02 77,268.97 77.5,268.97 78,268.97 78.5,269.17 79,269.43 79.5,269.69 80,270.1 80.5,270.52 81,270.93 81.5,271.35 82,271.79 82.5,272.23 83,272.68 83.5,273.12 84,273.59 84.5,274.1 85,274.61 85.5,275.12 86,275.64 86.5,276.3 87,276.97 87.5,277.64 88,278.31 88.5,278.99 89,279.76 89.5,280.54 90,281.32 90.5,282.1 91,282.88 91.5,283.73 92,284.66 92.5,285.59 93,286.52 93.5,287.69 94,289.21 94.5,290.74 95,292.47 95.5,294.34 96,296.45 96.5,299.49 97,304.99 97.5,316.88 98,342.53 98.5,366 99,332.96 99.5,320.76 100,316.88 100.5,315.25 101,314.91 101.5,314.91 102,315.38 102.5,316.61 103,319.09 103.5,322.54 104,326.75 104.5,332.96 105,341.08 105.5,350.86 106,363.35 106.5,377.43 107,394.03 107.5,413.18 108,441.86" fill="none" stroke="#222" stroke-width="0.65" stroke-dasharray="1 1.2"/>
<polyline points="109.5,440.71 110,422.66 110.5,407.65 111,395.06 111.5,385.89 112,377.95 112.5,371.81 113,366.79 113.5,363.32 114,361.94 114.5,361.25 115,361.25 115.5,361.25 116,363.28 116.5,366.24 117,373.02 117.5,382.18 118,395.64 118.5,411.94 119,431.3" fill="none" stroke="#222" stroke-width="0.65" stroke-dasharray="1 1.2"/>
<polyline points="122.75,453.63 123.25,437.71 123.75,429.05 124.25,425.24 124.75,422.43 125.25,422.43 125.75,422.43 126.25,425.98 126.75,429.86 127.25,434.23 127.75,431.05 128.25,428.79 128.75,427.48 129.25,426.85 129.75,426.85 130.25,428.79 130.75,433.01 131.25,438.79 131.75,447.98" fill="none" stroke="#222" stroke-width="0.65" stroke-dasharray="1 1.2"/>
<polyline points="34.5,248.01 35,248.01 35.5,248.18 36,248.34 36.5,248.57 37,248.85 37.5,249.14 38,249.51 38.5,249.95 39,250.39 39.5,250.93 40,251.58 40.5,252.22 41,253.23 41.5,254.41 42,256.28 42.5,259.22 43,265.15 43.5,278.34 44,318.34 44.5,369.37 45,440.9" fill="none" stroke="#444" stroke-width="0.65" stroke-dasharray="1 1.2"/>
<polyline points="45.75,422.88 46.25,380.85 46.75,353.34 47.25,332.31 47.75,314.96 48.25,298.65 48.75,286.19 49.25,276.76 49.75,269.5 50.25,264.29 50.75,261.75 51.25,259.87 51.75,259.11 52.25,258.63 52.75,258.39 53.25,258.49 53.75,258.86 54.25,259.46 54.75,260.97 55.25,263.26 55.75,266.71 56.25,273.71 56.75,284.92 57.25,306.37 57.75,355.81 58.25,302.48 58.75,278.58 59.25,270.9 59.75,266.54 60.25,263.3 60.75,261.69 61.25,260.57 61.75,260.2 62.25,259.93 62.75,259.93 63.25,260.04 63.75,260.15 64.25,260.63 64.75,261.2 65.25,262.1 65.75,263.51 66.25,265.12 66.75,267.54 67.25,270.37 67.75,274.78 68.25,280.86 68.75,289.63 69.25,301.84 69.75,318.34 70.25,343.33 70.75,380.85 71.25,378.65 71.75,333.02 72.25,307.31 72.75,293.36 73.25,285.03 73.75,280.5 74.25,277.53 74.75,275.58 75.25,274.14 75.75,273.43 76.25,272.72 76.75,272.66 77.25,272.6 77.75,272.6 78.25,272.83 78.75,273.13 79.25,273.43 79.75,273.91 80.25,274.39 80.75,274.86 81.25,275.34 81.75,275.85 82.25,276.36 82.75,276.88 83.25,277.39 83.75,277.93 84.25,278.52 84.75,279.1 85.25,279.69 85.75,280.28 86.25,281.04 86.75,281.81 87.25,282.58 87.75,283.35 88.25,284.12 88.75,285.01 89.25,285.89 89.75,286.79 90.25,287.68 90.75,288.57 91.25,289.53 91.75,290.59 92.25,291.65 92.75,292.72 93.25,294.04 93.75,295.76 94.25,297.49 94.75,299.45 95.25,301.56 95.75,303.93 96.25,307.34 96.75,313.49 97.25,326.63 97.75,354.29 98.25,401.38 98.75,378.65 99.25,344.08 99.75,330.87 100.25,326.63 100.75,324.84 101.25,324.47 101.75,324.97 102.25,326.33 102.75,329.05 103.25,332.81 103.75,337.38 104.25,344.08 104.75,352.75 105.25,363.04 105.75,375.94 106.25,390.13 106.75,406.29 107.25,423.99 107.75,447.77" fill="none" stroke="#444" stroke-width="0.65" stroke-dasharray="1 1.2"/>
<polyline points="109.75,446.91 110.25,432.29 110.75,418.99 111.25,407.26 111.75,398.44 112.25,390.65 112.75,384.52 113.25,379.45 113.75,375.91 114.25,374.51 114.75,373.8 115.25,373.8 115.75,375.88 116.25,378.89 116.75,385.73 117.25,394.82 117.75,407.81 118.25,422.88 118.75,439.52" fill="none" stroke="#444" stroke-width="0.65" stroke-dasharray="1 1.2"/>
<polyline points="123,455.77 123.5,444.61 124,437.67 124.5,434.49 125,432.1 125.5,432.1 126,435.11 126.5,438.34 127,441.88 127.5,442.08 128,439.31 128.5,437.45 129,436.37 129.5,435.84 130,437.45 130.5,440.9 131,445.45 131.5,452.15" fill="none" stroke="#444" stroke-width="0.65" stroke-dasharray="1 1.2"/>
<polyline points="34.75,248.14 35.25,248.33 35.75,248.53 36.25,248.8 36.75,249.14 37.25,249.47 37.75,249.9 38.25,250.43 38.75,250.95 39.25,251.59 39.75,252.35 40.25,253.1 40.75,254.29 41.25,255.67 41.75,257.87 42.25,261.32 42.75,268.23 43.25,283.47 43.75,328.4 44.25,382.28 44.75,447.14" fill="none" stroke="#555" stroke-width="0.65" stroke-dasharray="1 1.2"/>
<polyline points="46,432.62 46.5,393.72 47,365.84 47.5,343.57 48,324.69 48.5,306.54 49,292.45 49.5,281.65 50,273.27 50.5,267.23 51,264.27 51.5,262.07 52,261.19 52.5,260.62 53,260.46 53.5,260.89 54,261.59 54.5,263.36 55,266.03 55.5,270.04 56,278.15 56.5,291 57,315.17 57.5,368.41 58,416.83 58.5,310.83 59,283.75 59.5,274.89 60,269.84 60.5,266.07 61,264.19 61.5,262.9 62,262.46 62.5,262.14 63,262.27 63.5,262.41 64,262.96 64.5,263.63 65,264.68 65.5,266.32 66,268.19 66.5,271.01 67,274.28 67.5,279.37 68,286.36 68.5,296.36 69,310.12 69.5,328.4 70,355.33 70.5,393.72" fill="none" stroke="#555" stroke-width="0.65" stroke-dasharray="1 1.2"/>
<polyline points="71.25,427.11 71.75,365.84 72.25,327.29 72.75,306.71 73.25,295.31 73.75,288.53 74.25,283.66 74.75,281.42 75.25,279.19 75.75,278.23 76.25,277.41 76.75,276.97 77.25,276.9 77.75,276.95 78.25,277.3 78.75,277.65 79.25,278.1 79.75,278.65 80.25,279.2 80.75,279.75 81.25,280.32 81.75,280.91 82.25,281.49 82.75,282.08 83.25,282.67 83.75,283.34 84.25,284.01 84.75,284.68 85.25,285.36 85.75,286.13 86.25,287.01 86.75,287.89 87.25,288.77 87.75,289.65 88.25,290.59 88.75,291.6 89.25,292.62 89.75,293.63 90.25,294.65 90.75,295.67 91.25,296.85 91.75,298.05 92.25,299.25 92.75,300.46 93.25,302.32 93.75,304.27 94.25,306.26 94.75,308.62 95.25,310.99 95.75,314.35 96.25,318.66 96.75,327.51 97.25,349.01 97.75,387.27 98.25,447.05" fill="none" stroke="#555" stroke-width="0.65" stroke-dasharray="1 1.2"/>
<polyline points="98.75,420.17 99.25,371.43 99.75,349.01 100.25,339.73 100.75,336.14 101.25,335.09 101.75,336.2 102.25,338.58 102.75,341.94 103.25,346.29 103.75,352.55 104.25,360.04 104.75,370.49 105.25,382.28 105.75,395.64 106.25,410.17 106.75,425.93 107.25,441.99" fill="none" stroke="#555" stroke-width="0.65" stroke-dasharray="1 1.2"/>
<polyline points="110,451.48 110.5,440.44 111,429.28 111.5,418.82 112,410.66 112.5,403.25 113,397.32 113.5,392.34 114,388.84 114.5,387.43 115,386.73 115.5,388.8 116,391.79 116.5,398.5 117,407.23 117.5,419.32 118,432.62 118.5,446.1" fill="none" stroke="#555" stroke-width="0.65" stroke-dasharray="1 1.2"/>
<polyline points="123.25,456.98 123.75,449.86 124.25,444.69 124.75,442.2 125.25,440.28 125.75,442.69 126.25,445.2 126.75,447.87 127.25,450.23 127.75,448.02 128.25,445.94 128.75,444.52 129.25,443.68 129.75,444.52 130.25,447.14 130.75,450.46 131.25,454.91" fill="none" stroke="#555" stroke-width="0.65" stroke-dasharray="1 1.2"/>
<polygon points="35.8,249.2 37.6,250.8 39.3,253.2 40.8,256.5 41.8,260.5 42.5,266.5 42.9,274 42,272 40.5,269 39.4,265 39,259 38.1,254.5 36.6,251" fill="#8c8c8c"/>
<polyline points="36,250 37.6,252.5 38.6,256 38.9,262 39.1,268" fill="none" stroke="#222" stroke-width="0.7"/>
<g fill="none" stroke="#333" stroke-width="0.55" stroke-dasharray="1.6 0.5">
<path d="M158,457.6 C160,452 162,445 165.5,443.8 C169,444.5 171.5,452 174,457.6"/>
<path d="M160.5,457.6 C162,452 163.5,448 165,446.5" stroke-dasharray="1 1"/>
<path d="M191,457.6 C193,453 195,450.5 197,450.8 C198.5,449.5 200.5,447.8 203,448.2 C206,449 208.5,453 211.5,457.6"/>
<path d="M194,457.6 C196,454 198,452 200,451.5" stroke-dasharray="1 1"/>
</g>
<line x1="52.0" y1="247.8" x2="52.0" y2="457.9" stroke="#f02828" stroke-width="1.6" stroke-dasharray="4.4 3.7"/>
<line x1="77.4" y1="247.8" x2="77.4" y2="457.9" stroke="#f02828" stroke-width="1.6" stroke-dasharray="4.4 3.7"/>
<line x1="101.4" y1="247.8" x2="101.4" y2="457.9" stroke="#f02828" stroke-width="1.6" stroke-dasharray="4.4 3.7"/>
<rect x="34.5" y="247.3" width="315.0" height="210.59999999999997" fill="none" stroke="#000" stroke-width="1.2"/>
<path d="M54.5,457.9v-2.1M54.5,247.3v2.1M73.5,457.9v-2.1M73.5,247.3v2.1M93.5,457.9v-2.1M93.5,247.3v2.1M113.5,457.9v-2.1M113.5,247.3v2.1M132.5,457.9v-3.8M132.5,247.3v3.8M152.5,457.9v-2.1M152.5,247.3v2.1M172.5,457.9v-2.1M172.5,247.3v2.1M192.5,457.9v-2.1M192.5,247.3v2.1M211.5,457.9v-2.1M211.5,247.3v2.1M231.5,457.9v-3.8M231.5,247.3v3.8M251.5,457.9v-2.1M251.5,247.3v2.1M270.5,457.9v-2.1M270.5,247.3v2.1M290.5,457.9v-2.1M290.5,247.3v2.1M310.5,457.9v-2.1M310.5,247.3v2.1M329.5,457.9v-3.8M329.5,247.3v3.8M34.5,447.5h3M349.5,447.5h-3M34.5,436.5h3M349.5,436.5h-3M34.5,426.5h3M349.5,426.5h-3M34.5,415.5h6M349.5,415.5h-6M34.5,405.5h3M349.5,405.5h-3M34.5,394.5h3M349.5,394.5h-3M34.5,384.5h3M349.5,384.5h-3M34.5,373.5h6M349.5,373.5h-6M34.5,363.5h3M349.5,363.5h-3M34.5,352.5h3M349.5,352.5h-3M34.5,342.5h3M349.5,342.5h-3M34.5,331.5h6M349.5,331.5h-6M34.5,321.5h3M349.5,321.5h-3M34.5,310.5h3M349.5,310.5h-3M34.5,299.5h3M349.5,299.5h-3M34.5,289.5h6M349.5,289.5h-6M34.5,278.5h3M349.5,278.5h-3M34.5,268.5h3M349.5,268.5h-3M34.5,257.5h3M349.5,257.5h-3" stroke="#000" stroke-width="1.1" fill="none"/>
<text x="31.9" y="459.5" text-anchor="end" class="tl">0</text>
<text x="31.9" y="420.18" text-anchor="end" class="tl">20</text>
<text x="31.9" y="378.06" text-anchor="end" class="tl">40</text>
<text x="31.9" y="335.94" text-anchor="end" class="tl">60</text>
<text x="31.9" y="293.82" text-anchor="end" class="tl">80</text>
<text x="31.9" y="251.7" text-anchor="end" class="tl">100</text>
<text x="34.5" y="470.8" text-anchor="middle" class="tl">0</text>
<text x="133.74" y="470.8" text-anchor="middle" class="tl">500</text>
<text x="232.68" y="470.8" text-anchor="middle" class="tl">1000</text>
<text x="331.11" y="470.8" text-anchor="middle" class="tl">1500</text>
<text x="196.6" y="480.9" text-anchor="middle" class="al">Frequency [GHz]</text>
<text transform="translate(8.2,348.6) rotate(-90)" text-anchor="middle" class="al" style="font-size:10.9px">Transmission [%]</text>
<text x="331" y="269.8" text-anchor="middle" class="al">(b)</text>
</svg>
</body></html>
